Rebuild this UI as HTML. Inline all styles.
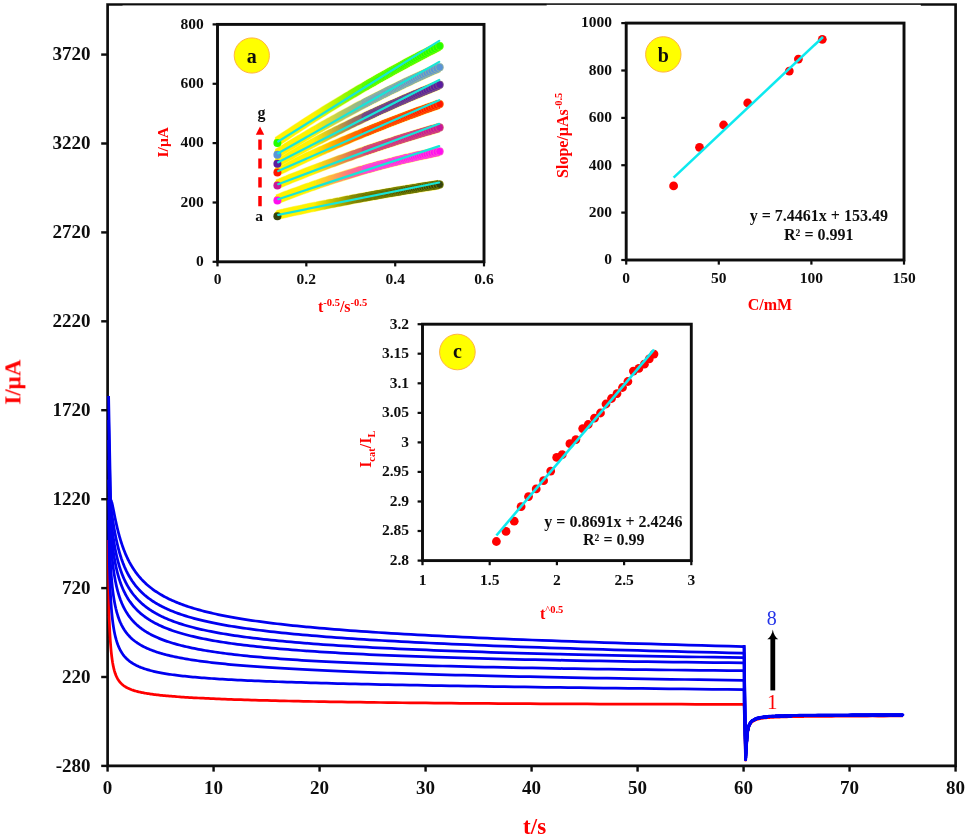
<!DOCTYPE html>
<html lang="en"><head><meta charset="utf-8"><title>Chronoamperograms</title>
<style>html,body{margin:0;padding:0;background:#fff}svg{display:block}text{font-family:"Liberation Serif", "DejaVu Serif", serif;font-weight:bold;fill:#111}</style></head><body>
<svg width="968" height="840" viewBox="0 0 968 840">
<defs><filter id="soft" x="0" y="0" width="968" height="840" filterUnits="userSpaceOnUse"><feGaussianBlur stdDeviation="0.38"/></filter></defs>
<rect width="968" height="840" fill="#fff"/>
<g filter="url(#soft)">
<g stroke="#0a0a0a" stroke-width="2.7" fill="none">
<path d="M107.6 4.5 H955.6 V765.9 H107.6 Z"/>
</g>
<rect x="122.5" y="5.55" width="424" height="3" fill="#fff"/>
<rect x="546.5" y="4.95" width="374.3" height="3" fill="#fff"/>
<rect x="546.5" y="3.0" width="374.3" height="2" fill="#fff" fill-opacity="0.1"/>
<g stroke="#0a0a0a" stroke-width="2.4">
<path d="M101.2 765.9 H107.6"/>
<path d="M101.2 677.0 H107.6"/>
<path d="M101.2 588.1 H107.6"/>
<path d="M101.2 499.2 H107.6"/>
<path d="M101.2 410.2 H107.6"/>
<path d="M101.2 321.3 H107.6"/>
<path d="M101.2 232.4 H107.6"/>
<path d="M101.2 143.5 H107.6"/>
<path d="M101.2 54.6 H107.6"/>
<path d="M107.6 765.9 V771.6"/>
<path d="M213.6 765.9 V771.6"/>
<path d="M319.6 765.9 V771.6"/>
<path d="M425.6 765.9 V771.6"/>
<path d="M531.6 765.9 V771.6"/>
<path d="M637.6 765.9 V771.6"/>
<path d="M743.6 765.9 V771.6"/>
<path d="M849.6 765.9 V771.6"/>
<path d="M955.6 765.9 V771.6"/>
</g>
<g font-size="19px" text-anchor="end">
<text x="90.6" y="771.5">-280</text>
<text x="90.6" y="682.6">220</text>
<text x="90.6" y="593.7">720</text>
<text x="90.6" y="504.8">1220</text>
<text x="90.6" y="415.9">1720</text>
<text x="90.6" y="326.9">2220</text>
<text x="90.6" y="238.0">2720</text>
<text x="90.6" y="149.1">3220</text>
<text x="90.6" y="60.2">3720</text>
</g>
<g font-size="19px" text-anchor="middle">
<text x="107.6" y="794.1">0</text>
<text x="213.6" y="794.1">10</text>
<text x="319.6" y="794.1">20</text>
<text x="425.6" y="794.1">30</text>
<text x="531.6" y="794.1">40</text>
<text x="637.6" y="794.1">50</text>
<text x="743.6" y="794.1">60</text>
<text x="849.6" y="794.1">70</text>
<text x="955.6" y="794.1">80</text>
</g>
<text x="534.6" y="834.2" font-size="23px" text-anchor="middle" style="fill:#ff0000">t/s</text>
<text transform="translate(20.4 382.2) rotate(-90)" font-size="23px" text-anchor="middle" style="fill:#ff0000">I/μA</text>
<g fill="none" stroke-width="2.75" stroke-linejoin="round" stroke-linecap="butt">
<path d="M108.4 540.0L109.00 614.32L109.04 615.16L109.07 616.03L109.11 616.93L109.15 617.85L109.19 618.80L109.23 619.77L109.27 620.75L109.32 621.75L109.36 622.77L109.41 623.80L109.46 624.84L109.50 625.89L109.55 626.95L109.60 628.02L109.66 629.09L109.71 630.16L109.76 631.24L109.82 632.32L109.88 633.39L109.94 634.47L110.00 635.54L110.06 636.61L110.12 637.68L110.19 638.74L110.25 639.80L110.32 640.84L110.39 641.89L110.47 642.92L110.54 643.94L110.62 644.96L110.70 645.96L110.78 646.96L110.86 647.94L110.94 648.91L111.03 649.87L111.12 650.82L111.21 651.76L111.30 652.69L111.40 653.60L111.50 654.50L111.60 655.38L111.70 656.26L111.81 657.12L111.92 657.96L112.03 658.80L112.14 659.62L112.26 660.42L112.38 661.22L112.51 662.00L112.63 662.76L112.77 663.51L112.90 664.25L113.04 664.98L113.18 665.69L113.32 666.39L113.47 667.08L113.62 667.76L113.78 668.42L113.94 669.07L114.10 669.70L114.27 670.33L114.45 670.94L114.62 671.54L114.80 672.13L114.99 672.71L115.18 673.27L115.38 673.83L115.58 674.37L115.79 674.90L116.00 675.42L116.22 675.93L116.44 676.44L116.67 676.93L116.91 677.41L117.15 677.88L117.40 678.34L117.65 678.79L117.91 679.23L118.18 679.66L118.45 680.09L118.73 680.50L119.02 680.91L119.32 681.31L119.62 681.70L119.93 682.08L120.25 682.46L120.58 682.82L120.92 683.18L121.26 683.53L121.62 683.88L121.98 684.22L122.35 684.55L122.74 684.87L123.13 685.19L123.53 685.50L123.94 685.80L124.37 686.10L124.80 686.40L125.25 686.68L125.71 686.96L126.18 687.24L126.66 687.51L127.15 687.78L127.66 688.04L128.18 688.29L128.71 688.54L129.26 688.79L129.82 689.03L130.40 689.27L130.99 689.50L131.59 689.73L132.22 689.95L132.86 690.17L133.51 690.39L134.18 690.60L134.87 690.81L135.58 691.01L136.30 691.22L137.05 691.41L137.81 691.61L138.59 691.80L139.40 691.99L140.22 692.18L141.07 692.36L141.94 692.54L142.83 692.72L143.74 692.89L144.68 693.07L145.64 693.24L146.62 693.40L147.64 693.57L148.67 693.73L149.74 693.89L150.83 694.05L151.95 694.21L153.10 694.36L154.28 694.52L155.49 694.67L156.74 694.82L158.01 694.97L159.32 695.11L160.66 695.26L162.03 695.40L163.44 695.54L164.89 695.68L166.38 695.82L167.90 695.96L169.47 696.09L171.07 696.23L172.71 696.36L174.40 696.49L176.14 696.62L177.91 696.75L179.74 696.88L181.61 697.01L183.52 697.14L185.49 697.27L187.51 697.39L189.58 697.52L191.71 697.64L193.89 697.76L196.13 697.88L198.42 698.00L200.78 698.12L203.20 698.24L205.67 698.36L208.22 698.48L210.83 698.60L213.50 698.71L216.25 698.83L219.06 698.95L221.95 699.06L224.92 699.17L227.96 699.29L231.08 699.40L234.28 699.51L237.57 699.62L240.94 699.73L244.40 699.84L247.94 699.95L251.58 700.06L255.32 700.17L259.15 700.27L263.07 700.38L267.11 700.49L271.24 700.59L275.48 700.69L279.84 700.80L284.30 700.90L288.88 701.00L293.59 701.10L298.41 701.20L303.35 701.30L308.43 701.40L313.64 701.50L318.98 701.59L324.46 701.69L330.08 701.78L335.85 701.88L341.77 701.97L347.84 702.06L354.07 702.15L360.46 702.24L367.02 702.33L373.74 702.41L380.64 702.50L387.72 702.58L394.99 702.66L402.44 702.75L410.08 702.83L417.93 702.90L425.97 702.98L434.23 703.06L442.70 703.13L451.38 703.20L460.30 703.27L469.44 703.34L478.83 703.41L488.45 703.48L498.33 703.54L508.46 703.60L518.85 703.66L529.51 703.72L540.45 703.78L551.68 703.83L563.19 703.88L575.00 703.93L587.12 703.98L599.55 704.02L612.31 704.07L625.40 704.11L638.82 704.14L652.60 704.18L666.73 704.21L681.22 704.24L696.10 704.27L711.36 704.29L727.01 704.31L743.07 704.33L744.1 704.3 L744.3 707.3 L745.6 759.3L745.6 760.2L745.6 759.2L745.7 758.2L745.7 757.1L745.8 756.1L745.8 755.1L745.9 754.1L745.9 753.0L746.0 752.0L746.1 751.0L746.1 749.9L746.2 748.9L746.3 747.8L746.3 746.8L746.4 745.7L746.5 744.6L746.6 743.5L746.7 742.3L746.8 741.1L746.8 739.9L746.9 738.7L747.0 737.5L747.2 736.3L747.3 735.2L747.4 734.1L747.5 733.1L747.6 732.2L747.8 731.3L747.9 730.5L748.0 729.9L748.2 729.2L748.3 728.6L748.5 728.1L748.7 727.5L748.8 727.0L749.0 726.5L749.2 726.1L749.4 725.6L749.6 725.2L749.9 724.7L750.1 724.3L750.3 723.9L750.6 723.5L750.8 723.2L751.1 722.9L751.4 722.6L751.7 722.3L752.0 722.0L752.3 721.8L752.6 721.5L753.0 721.3L753.4 721.1L753.7 720.8L754.1 720.6L754.6 720.4L755.0 720.2L755.4 720.0L755.9 719.8L756.4 719.6L756.9 719.4L757.4 719.2L758.0 719.1L758.6 718.9L759.2 718.8L759.8 718.7L760.5 718.6L761.2 718.5L761.9 718.4L762.7 718.2L763.4 718.1L764.3 718.0L765.1 717.9L766.0 717.8L766.9 717.7L767.9 717.6L768.9 717.5L770.0 717.5L771.1 717.4L772.2 717.3L773.4 717.3L774.7 717.2L776.0 717.1L777.4 717.1L778.8 717.0L780.3 717.0L781.8 716.9L783.4 716.9L785.1 716.8L786.9 716.8L788.7 716.7L790.7 716.7L792.7 716.6L794.7 716.6L796.9 716.6L799.2 716.5L801.6 716.5L804.0 716.5L806.6 716.4L809.3 716.4L812.1 716.4L815.1 716.4L818.1 716.3L821.3 716.3L824.7 716.3L828.2 716.3L831.8 716.3L835.6 716.2L839.5 716.2L843.7 716.2L848.0 716.2L852.5 716.1L857.2 716.1L862.0 716.1L867.2 716.1L872.5 716.0L878.0 716.0L883.8 716.0L889.9 715.9L896.2 715.9L902.8 715.9" stroke="#ff0000"/>
<path d="M108.6 520.0L109.30 561.02L109.34 562.76L109.39 564.48L109.43 566.18L109.48 567.87L109.52 569.53L109.57 571.18L109.62 572.81L109.67 574.42L109.72 576.02L109.78 577.59L109.83 579.15L109.89 580.69L109.95 582.21L110.01 583.72L110.07 585.21L110.13 586.68L110.19 588.13L110.26 589.56L110.32 590.98L110.39 592.38L110.46 593.77L110.53 595.13L110.61 596.48L110.68 597.81L110.76 599.13L110.84 600.43L110.92 601.71L111.00 602.97L111.09 604.22L111.18 605.46L111.27 606.67L111.36 607.87L111.45 609.06L111.55 610.23L111.65 611.38L111.75 612.52L111.85 613.64L111.96 614.75L112.07 615.84L112.18 616.92L112.30 617.98L112.41 619.03L112.54 620.07L112.66 621.09L112.79 622.09L112.92 623.08L113.05 624.06L113.19 625.02L113.33 625.97L113.47 626.91L113.62 627.83L113.77 628.74L113.92 629.64L114.08 630.53L114.24 631.40L114.41 632.26L114.58 633.10L114.76 633.94L114.94 634.76L115.12 635.57L115.31 636.37L115.50 637.16L115.70 637.94L115.91 638.70L116.11 639.45L116.33 640.20L116.55 640.93L116.77 641.65L117.00 642.36L117.24 643.06L117.48 643.75L117.73 644.43L117.98 645.10L118.24 645.75L118.51 646.40L118.78 647.04L119.06 647.67L119.35 648.29L119.65 648.91L119.95 649.51L120.26 650.10L120.58 650.68L120.90 651.26L121.23 651.83L121.58 652.39L121.93 652.94L122.29 653.48L122.66 654.01L123.03 654.54L123.42 655.05L123.82 655.56L124.22 656.07L124.64 656.56L125.07 657.05L125.51 657.53L125.96 658.00L126.42 658.47L126.89 658.93L127.37 659.38L127.87 659.82L128.38 660.26L128.90 660.69L129.44 661.12L129.98 661.53L130.55 661.95L131.12 662.35L131.71 662.75L132.32 663.15L132.94 663.53L133.57 663.92L134.22 664.29L134.89 664.66L135.58 665.03L136.28 665.39L137.00 665.74L137.74 666.09L138.49 666.44L139.27 666.78L140.06 667.11L140.88 667.44L141.71 667.76L142.57 668.08L143.45 668.40L144.35 668.71L145.27 669.01L146.21 669.31L147.18 669.61L148.18 669.90L149.19 670.19L150.24 670.47L151.31 670.75L152.40 671.03L153.53 671.30L154.68 671.57L155.86 671.84L157.07 672.10L158.32 672.35L159.59 672.61L160.89 672.86L162.23 673.10L163.60 673.35L165.01 673.58L166.45 673.82L167.92 674.05L169.44 674.28L170.99 674.51L172.58 674.74L174.21 674.96L175.88 675.18L177.60 675.39L179.35 675.60L181.15 675.81L183.00 676.02L184.89 676.23L186.83 676.43L188.82 676.63L190.86 676.82L192.95 677.02L195.09 677.21L197.29 677.40L199.54 677.59L201.84 677.78L204.21 677.96L206.63 678.14L209.12 678.32L211.67 678.50L214.28 678.68L216.95 678.85L219.70 679.03L222.51 679.20L225.40 679.37L228.35 679.54L231.38 679.70L234.49 679.87L237.67 680.03L240.94 680.19L244.28 680.35L247.71 680.51L251.23 680.67L254.83 680.83L258.53 680.98L262.32 681.14L266.20 681.29L270.18 681.45L274.26 681.60L278.44 681.75L282.73 681.90L287.12 682.05L291.63 682.20L296.25 682.35L300.98 682.49L305.83 682.64L310.81 682.79L315.91 682.93L321.14 683.08L326.49 683.22L331.99 683.36L337.62 683.51L343.39 683.65L349.31 683.80L355.37 683.94L361.59 684.08L367.97 684.22L374.50 684.37L381.20 684.51L388.06 684.65L395.10 684.79L402.32 684.94L409.71 685.08L417.29 685.22L425.07 685.37L433.03 685.51L441.20 685.65L449.57 685.80L458.15 685.94L466.95 686.09L475.97 686.23L485.21 686.38L494.69 686.52L504.40 686.67L514.36 686.82L524.57 686.96L535.03 687.11L545.76 687.26L556.75 687.41L568.03 687.56L579.58 687.71L591.43 687.86L603.57 688.02L616.01 688.17L628.77 688.32L641.85 688.48L655.26 688.64L669.00 688.79L683.09 688.95L697.53 689.11L712.34 689.27L727.51 689.43L743.07 689.59L744.1 689.6 L744.3 692.6 L745.6 759.3L745.6 759.3L745.6 758.3L745.7 757.3L745.7 756.2L745.8 755.2L745.8 754.2L745.9 753.2L745.9 752.1L746.0 751.1L746.1 750.1L746.1 749.0L746.2 748.0L746.3 746.9L746.3 745.9L746.4 744.8L746.5 743.7L746.6 742.6L746.7 741.4L746.8 740.2L746.8 739.0L746.9 737.8L747.0 736.6L747.2 735.4L747.3 734.3L747.4 733.2L747.5 732.2L747.6 731.3L747.8 730.4L747.9 729.6L748.0 729.0L748.2 728.3L748.3 727.7L748.5 727.2L748.7 726.6L748.8 726.1L749.0 725.6L749.2 725.2L749.4 724.7L749.6 724.3L749.9 723.8L750.1 723.4L750.3 723.0L750.6 722.6L750.8 722.3L751.1 722.0L751.4 721.7L751.7 721.4L752.0 721.1L752.3 720.9L752.6 720.6L753.0 720.4L753.4 720.2L753.7 719.9L754.1 719.7L754.6 719.5L755.0 719.3L755.4 719.1L755.9 718.9L756.4 718.7L756.9 718.5L757.4 718.3L758.0 718.2L758.6 718.0L759.2 717.9L759.8 717.8L760.5 717.7L761.2 717.6L761.9 717.5L762.7 717.3L763.4 717.2L764.3 717.1L765.1 717.0L766.0 716.9L766.9 716.8L767.9 716.7L768.9 716.6L770.0 716.6L771.1 716.5L772.2 716.4L773.4 716.4L774.7 716.3L776.0 716.2L777.4 716.2L778.8 716.1L780.3 716.1L781.8 716.0L783.4 716.0L785.1 715.9L786.9 715.9L788.7 715.8L790.7 715.8L792.7 715.7L794.7 715.7L796.9 715.7L799.2 715.6L801.6 715.6L804.0 715.6L806.6 715.5L809.3 715.5L812.1 715.5L815.1 715.5L818.1 715.4L821.3 715.4L824.7 715.4L828.2 715.4L831.8 715.4L835.6 715.3L839.5 715.3L843.7 715.3L848.0 715.3L852.5 715.2L857.2 715.2L862.0 715.2L867.2 715.2L872.5 715.1L878.0 715.1L883.8 715.1L889.9 715.0L896.2 715.0L902.8 715.0" stroke="#0000f0"/>
<path d="M108.6 500.0L109.60 542.85L109.65 544.25L109.70 545.64L109.75 547.02L109.80 548.39L109.86 549.75L109.91 551.11L109.97 552.45L110.03 553.78L110.08 555.11L110.15 556.42L110.21 557.72L110.27 559.02L110.34 560.30L110.40 561.58L110.47 562.84L110.54 564.09L110.61 565.34L110.69 566.57L110.76 567.80L110.84 569.01L110.92 570.21L111.00 571.41L111.08 572.59L111.17 573.76L111.25 574.93L111.34 576.08L111.43 577.23L111.53 578.36L111.62 579.48L111.72 580.60L111.82 581.70L111.93 582.80L112.03 583.88L112.14 584.96L112.25 586.02L112.36 587.08L112.48 588.12L112.60 589.16L112.72 590.18L112.85 591.20L112.97 592.21L113.10 593.20L113.24 594.19L113.38 595.17L113.52 596.14L113.66 597.10L113.81 598.05L113.96 598.99L114.12 599.92L114.28 600.85L114.44 601.76L114.61 602.67L114.78 603.56L114.95 604.45L115.13 605.33L115.31 606.20L115.50 607.06L115.70 607.91L115.89 608.76L116.10 609.59L116.30 610.42L116.51 611.24L116.73 612.05L116.95 612.85L117.18 613.65L117.42 614.43L117.66 615.21L117.90 615.98L118.15 616.74L118.41 617.50L118.67 618.24L118.94 618.98L119.22 619.71L119.50 620.44L119.80 621.15L120.09 621.86L120.40 622.56L120.71 623.26L121.03 623.94L121.36 624.62L121.69 625.29L122.04 625.96L122.39 626.62L122.75 627.27L123.12 627.91L123.50 628.55L123.89 629.18L124.28 629.81L124.69 630.43L125.11 631.04L125.53 631.64L125.97 632.24L126.42 632.83L126.88 633.42L127.35 634.00L127.83 634.57L128.33 635.14L128.83 635.70L129.35 636.26L129.88 636.81L130.42 637.35L130.98 637.89L131.55 638.42L132.14 638.95L132.73 639.47L133.35 639.99L133.98 640.50L134.62 641.01L135.28 641.51L135.95 642.00L136.65 642.49L137.35 642.98L138.08 643.46L138.82 643.93L139.59 644.40L140.37 644.87L141.17 645.33L141.98 645.78L142.82 646.23L143.68 646.68L144.56 647.12L145.46 647.56L146.39 647.99L147.33 648.42L148.30 648.84L149.30 649.26L150.31 649.68L151.36 650.09L152.42 650.50L153.52 650.90L154.64 651.30L155.79 651.69L156.96 652.09L158.17 652.47L159.40 652.86L160.66 653.24L161.96 653.61L163.28 653.99L164.64 654.35L166.04 654.72L167.46 655.08L168.92 655.44L170.42 655.79L171.95 656.15L173.52 656.49L175.13 656.84L176.78 657.18L178.46 657.52L180.19 657.86L181.96 658.19L183.78 658.52L185.64 658.84L187.54 659.17L189.49 659.49L191.49 659.81L193.54 660.12L195.63 660.43L197.78 660.74L199.98 661.05L202.24 661.36L204.54 661.66L206.91 661.96L209.33 662.25L211.81 662.55L214.36 662.84L216.96 663.13L219.63 663.42L222.36 663.70L225.16 663.99L228.03 664.27L230.97 664.55L233.98 664.82L237.06 665.10L240.22 665.37L243.46 665.64L246.77 665.91L250.17 666.17L253.65 666.44L257.21 666.70L260.86 666.96L264.60 667.22L268.43 667.48L272.35 667.73L276.37 667.99L280.49 668.24L284.71 668.49L289.03 668.74L293.46 668.99L297.99 669.23L302.64 669.48L307.40 669.72L312.27 669.96L317.27 670.21L322.38 670.44L327.62 670.68L332.99 670.92L338.49 671.16L344.12 671.39L349.89 671.62L355.80 671.86L361.86 672.09L368.06 672.32L374.42 672.55L380.93 672.77L387.60 673.00L394.43 673.23L401.43 673.45L408.60 673.68L415.94 673.90L423.46 674.12L431.17 674.34L439.06 674.57L447.15 674.79L455.43 675.01L463.92 675.22L472.61 675.44L481.52 675.66L490.64 675.88L499.99 676.09L509.56 676.31L519.37 676.53L529.42 676.74L539.71 676.96L550.25 677.17L561.05 677.38L572.11 677.60L583.45 677.81L595.06 678.02L606.95 678.23L619.13 678.45L631.62 678.66L644.40 678.87L657.50 679.08L670.91 679.29L684.66 679.50L698.74 679.71L713.16 679.92L727.93 680.13L743.07 680.34L744.1 680.3 L744.3 683.3 L745.6 759.3L745.6 759.3L745.6 758.3L745.7 757.3L745.7 756.2L745.8 755.2L745.8 754.2L745.9 753.2L745.9 752.1L746.0 751.1L746.1 750.1L746.1 749.0L746.2 748.0L746.3 746.9L746.3 745.9L746.4 744.8L746.5 743.7L746.6 742.6L746.7 741.4L746.8 740.2L746.8 739.0L746.9 737.8L747.0 736.6L747.2 735.4L747.3 734.3L747.4 733.2L747.5 732.2L747.6 731.3L747.8 730.4L747.9 729.6L748.0 729.0L748.2 728.3L748.3 727.7L748.5 727.2L748.7 726.6L748.8 726.1L749.0 725.6L749.2 725.2L749.4 724.7L749.6 724.3L749.9 723.8L750.1 723.4L750.3 723.0L750.6 722.6L750.8 722.3L751.1 722.0L751.4 721.7L751.7 721.4L752.0 721.1L752.3 720.9L752.6 720.6L753.0 720.4L753.4 720.2L753.7 719.9L754.1 719.7L754.6 719.5L755.0 719.3L755.4 719.1L755.9 718.9L756.4 718.7L756.9 718.5L757.4 718.3L758.0 718.2L758.6 718.0L759.2 717.9L759.8 717.8L760.5 717.7L761.2 717.6L761.9 717.5L762.7 717.3L763.4 717.2L764.3 717.1L765.1 717.0L766.0 716.9L766.9 716.8L767.9 716.7L768.9 716.6L770.0 716.6L771.1 716.5L772.2 716.4L773.4 716.4L774.7 716.3L776.0 716.2L777.4 716.2L778.8 716.1L780.3 716.1L781.8 716.0L783.4 716.0L785.1 715.9L786.9 715.9L788.7 715.8L790.7 715.8L792.7 715.7L794.7 715.7L796.9 715.7L799.2 715.6L801.6 715.6L804.0 715.6L806.6 715.5L809.3 715.5L812.1 715.5L815.1 715.5L818.1 715.4L821.3 715.4L824.7 715.4L828.2 715.4L831.8 715.4L835.6 715.3L839.5 715.3L843.7 715.3L848.0 715.3L852.5 715.2L857.2 715.2L862.0 715.2L867.2 715.2L872.5 715.1L878.0 715.1L883.8 715.1L889.9 715.0L896.2 715.0L902.8 715.0" stroke="#0000f0"/>
<path d="M108.6 480.0L109.80 521.45L109.85 522.72L109.91 523.99L109.96 525.25L110.02 526.51L110.08 527.75L110.14 529.00L110.20 530.24L110.26 531.47L110.32 532.70L110.39 533.92L110.46 535.13L110.52 536.34L110.59 537.55L110.67 538.74L110.74 539.94L110.81 541.12L110.89 542.30L110.97 543.48L111.05 544.64L111.13 545.81L111.22 546.96L111.31 548.11L111.40 549.26L111.49 550.40L111.58 551.53L111.67 552.65L111.77 553.77L111.87 554.89L111.98 555.99L112.08 557.09L112.19 558.19L112.30 559.28L112.41 560.36L112.53 561.44L112.64 562.51L112.76 563.57L112.89 564.63L113.02 565.68L113.15 566.73L113.28 567.77L113.41 568.80L113.55 569.83L113.70 570.85L113.84 571.86L113.99 572.87L114.15 573.87L114.30 574.86L114.46 575.85L114.63 576.84L114.80 577.81L114.97 578.78L115.15 579.75L115.33 580.71L115.51 581.66L115.70 582.60L115.90 583.54L116.10 584.47L116.30 585.40L116.51 586.32L116.72 587.24L116.94 588.14L117.17 589.05L117.40 589.94L117.63 590.83L117.87 591.71L118.12 592.59L118.37 593.46L118.63 594.33L118.89 595.19L119.16 596.04L119.44 596.89L119.73 597.73L120.02 598.56L120.31 599.39L120.62 600.21L120.93 601.03L121.25 601.84L121.58 602.65L121.91 603.44L122.26 604.24L122.61 605.03L122.97 605.81L123.34 606.58L123.72 607.35L124.10 608.11L124.50 608.87L124.90 609.62L125.32 610.37L125.74 611.11L126.18 611.85L126.63 612.58L127.08 613.30L127.55 614.02L128.03 614.73L128.52 615.44L129.02 616.14L129.53 616.83L130.06 617.52L130.60 618.21L131.15 618.88L131.72 619.56L132.29 620.23L132.89 620.89L133.49 621.54L134.11 622.20L134.75 622.84L135.40 623.48L136.07 624.12L136.75 624.75L137.45 625.37L138.17 625.99L138.90 626.61L139.65 627.22L140.42 627.82L141.21 628.42L142.01 629.02L142.84 629.60L143.68 630.19L144.55 630.77L145.44 631.34L146.34 631.91L147.27 632.47L148.23 633.03L149.20 633.59L150.20 634.14L151.22 634.68L152.27 635.22L153.34 635.75L154.43 636.28L155.56 636.81L156.71 637.33L157.89 637.85L159.09 638.36L160.33 638.86L161.59 639.36L162.89 639.86L164.22 640.35L165.57 640.84L166.96 641.33L168.39 641.80L169.85 642.28L171.34 642.75L172.87 643.21L174.43 643.68L176.04 644.13L177.68 644.58L179.36 645.03L181.08 645.48L182.85 645.92L184.65 646.35L186.50 646.78L188.39 647.21L190.33 647.63L192.32 648.05L194.35 648.47L196.43 648.88L198.56 649.28L200.74 649.68L202.98 650.08L205.26 650.48L207.61 650.87L210.01 651.25L212.46 651.64L214.98 652.01L217.55 652.39L220.19 652.76L222.89 653.13L225.66 653.49L228.49 653.85L231.39 654.20L234.36 654.56L237.40 654.90L240.52 655.25L243.71 655.59L246.97 655.93L250.31 656.26L253.74 656.59L257.24 656.92L260.83 657.24L264.51 657.56L268.27 657.87L272.13 658.18L276.08 658.49L280.12 658.80L284.26 659.10L288.49 659.40L292.83 659.69L297.28 659.98L301.83 660.27L306.49 660.56L311.26 660.84L316.14 661.11L321.15 661.39L326.27 661.66L331.52 661.93L336.89 662.19L342.39 662.45L348.02 662.71L353.79 662.97L359.69 663.22L365.74 663.47L371.93 663.71L378.28 663.96L384.77 664.20L391.42 664.43L398.23 664.67L405.20 664.90L412.34 665.12L419.65 665.35L427.14 665.57L434.80 665.79L442.65 666.00L450.69 666.21L458.92 666.42L467.35 666.63L475.98 666.83L484.82 667.03L493.86 667.23L503.13 667.42L512.62 667.61L522.34 667.80L532.29 667.99L542.47 668.17L552.91 668.35L563.59 668.53L574.53 668.70L585.73 668.87L597.20 669.04L608.95 669.21L620.97 669.37L633.29 669.53L645.90 669.69L658.81 669.84L672.04 670.00L685.58 670.15L699.44 670.29L713.64 670.44L728.18 670.58L743.07 670.72L744.1 670.7 L744.3 673.7 L745.6 759.3L745.6 759.3L745.6 758.3L745.7 757.3L745.7 756.2L745.8 755.2L745.8 754.2L745.9 753.2L745.9 752.1L746.0 751.1L746.1 750.1L746.1 749.0L746.2 748.0L746.3 746.9L746.3 745.9L746.4 744.8L746.5 743.7L746.6 742.6L746.7 741.4L746.8 740.2L746.8 739.0L746.9 737.8L747.0 736.6L747.2 735.4L747.3 734.3L747.4 733.2L747.5 732.2L747.6 731.3L747.8 730.4L747.9 729.6L748.0 729.0L748.2 728.3L748.3 727.7L748.5 727.2L748.7 726.6L748.8 726.1L749.0 725.6L749.2 725.2L749.4 724.7L749.6 724.3L749.9 723.8L750.1 723.4L750.3 723.0L750.6 722.6L750.8 722.3L751.1 722.0L751.4 721.7L751.7 721.4L752.0 721.1L752.3 720.9L752.6 720.6L753.0 720.4L753.4 720.2L753.7 719.9L754.1 719.7L754.6 719.5L755.0 719.3L755.4 719.1L755.9 718.9L756.4 718.7L756.9 718.5L757.4 718.3L758.0 718.2L758.6 718.0L759.2 717.9L759.8 717.8L760.5 717.7L761.2 717.6L761.9 717.5L762.7 717.3L763.4 717.2L764.3 717.1L765.1 717.0L766.0 716.9L766.9 716.8L767.9 716.7L768.9 716.6L770.0 716.6L771.1 716.5L772.2 716.4L773.4 716.4L774.7 716.3L776.0 716.2L777.4 716.2L778.8 716.1L780.3 716.1L781.8 716.0L783.4 716.0L785.1 715.9L786.9 715.9L788.7 715.8L790.7 715.8L792.7 715.7L794.7 715.7L796.9 715.7L799.2 715.6L801.6 715.6L804.0 715.6L806.6 715.5L809.3 715.5L812.1 715.5L815.1 715.5L818.1 715.4L821.3 715.4L824.7 715.4L828.2 715.4L831.8 715.4L835.6 715.3L839.5 715.3L843.7 715.3L848.0 715.3L852.5 715.2L857.2 715.2L862.0 715.2L867.2 715.2L872.5 715.1L878.0 715.1L883.8 715.1L889.9 715.0L896.2 715.0L902.8 715.0" stroke="#0000f0"/>
<path d="M108.6 460.0L110.00 514.91L110.06 515.87L110.11 516.84L110.17 517.80L110.23 518.77L110.30 519.73L110.36 520.71L110.43 521.68L110.49 522.65L110.56 523.62L110.63 524.60L110.70 525.58L110.78 526.55L110.85 527.53L110.93 528.51L111.01 529.49L111.09 530.47L111.17 531.45L111.25 532.43L111.34 533.41L111.43 534.40L111.52 535.38L111.61 536.36L111.71 537.34L111.80 538.31L111.90 539.29L112.00 540.27L112.11 541.25L112.21 542.22L112.32 543.20L112.43 544.17L112.55 545.14L112.67 546.11L112.79 547.08L112.91 548.05L113.03 549.02L113.16 549.98L113.29 550.94L113.43 551.90L113.56 552.86L113.71 553.82L113.85 554.77L114.00 555.72L114.15 556.67L114.30 557.62L114.46 558.56L114.62 559.50L114.79 560.44L114.96 561.38L115.13 562.31L115.31 563.24L115.49 564.17L115.68 565.09L115.87 566.01L116.07 566.93L116.27 567.85L116.47 568.76L116.68 569.66L116.89 570.57L117.11 571.47L117.34 572.37L117.57 573.26L117.80 574.15L118.04 575.03L118.29 575.92L118.54 576.80L118.80 577.67L119.07 578.54L119.34 579.41L119.61 580.27L119.90 581.13L120.19 581.98L120.49 582.83L120.79 583.68L121.10 584.52L121.42 585.36L121.75 586.19L122.08 587.02L122.42 587.85L122.77 588.67L123.13 589.48L123.50 590.30L123.87 591.10L124.26 591.91L124.65 592.70L125.05 593.50L125.47 594.29L125.89 595.07L126.32 595.85L126.76 596.63L127.22 597.40L127.68 598.17L128.15 598.93L128.64 599.68L129.13 600.44L129.64 601.18L130.16 601.93L130.70 602.67L131.24 603.40L131.80 604.13L132.37 604.85L132.96 605.57L133.56 606.29L134.17 607.00L134.80 607.70L135.44 608.40L136.10 609.10L136.77 609.79L137.46 610.47L138.16 611.15L138.89 611.83L139.62 612.50L140.38 613.17L141.16 613.83L141.95 614.49L142.76 615.14L143.59 615.79L144.44 616.43L145.31 617.07L146.20 617.70L147.11 618.33L148.04 618.95L149.00 619.57L149.98 620.19L150.98 620.80L152.00 621.40L153.05 622.00L154.12 622.60L155.22 623.19L156.35 623.77L157.50 624.35L158.68 624.93L159.88 625.50L161.12 626.07L162.38 626.63L163.68 627.19L165.00 627.74L166.36 628.29L167.74 628.83L169.17 629.37L170.62 629.91L172.11 630.44L173.63 630.96L175.19 631.49L176.79 632.00L178.42 632.51L180.09 633.02L181.81 633.52L183.56 634.02L185.35 634.52L187.19 635.01L189.07 635.49L190.99 635.97L192.96 636.45L194.98 636.92L197.04 637.39L199.15 637.85L201.32 638.31L203.53 638.77L205.79 639.22L208.11 639.67L210.49 640.11L212.92 640.55L215.40 640.98L217.95 641.41L220.56 641.83L223.22 642.26L225.96 642.67L228.75 643.08L231.61 643.49L234.54 643.90L237.54 644.30L240.61 644.70L243.75 645.09L246.96 645.48L250.26 645.86L253.62 646.24L257.07 646.62L260.60 646.99L264.22 647.36L267.92 647.72L271.70 648.09L275.58 648.44L279.55 648.80L283.61 649.14L287.76 649.49L292.02 649.83L296.37 650.17L300.83 650.50L305.40 650.83L310.07 651.16L314.85 651.48L319.74 651.80L324.75 652.12L329.88 652.43L335.13 652.74L340.50 653.04L346.01 653.34L351.64 653.64L357.40 653.93L363.30 654.22L369.34 654.51L375.52 654.79L381.85 655.07L388.32 655.35L394.95 655.62L401.74 655.89L408.69 656.16L415.80 656.42L423.08 656.68L430.53 656.93L438.15 657.19L445.96 657.43L453.95 657.68L462.13 657.92L470.50 658.16L479.08 658.39L487.85 658.63L496.83 658.85L506.02 659.08L515.43 659.30L525.06 659.52L534.92 659.73L545.01 659.95L555.35 660.16L565.92 660.36L576.74 660.56L587.82 660.76L599.17 660.96L610.78 661.15L622.66 661.34L634.82 661.53L647.27 661.71L660.02 661.89L673.07 662.07L686.42 662.24L700.09 662.41L714.08 662.58L728.41 662.74L743.07 662.90L744.1 662.9 L744.3 665.9 L745.6 759.3L745.6 759.3L745.6 758.3L745.7 757.3L745.7 756.2L745.8 755.2L745.8 754.2L745.9 753.2L745.9 752.1L746.0 751.1L746.1 750.1L746.1 749.0L746.2 748.0L746.3 746.9L746.3 745.9L746.4 744.8L746.5 743.7L746.6 742.6L746.7 741.4L746.8 740.2L746.8 739.0L746.9 737.8L747.0 736.6L747.2 735.4L747.3 734.3L747.4 733.2L747.5 732.2L747.6 731.3L747.8 730.4L747.9 729.6L748.0 729.0L748.2 728.3L748.3 727.7L748.5 727.2L748.7 726.6L748.8 726.1L749.0 725.6L749.2 725.2L749.4 724.7L749.6 724.3L749.9 723.8L750.1 723.4L750.3 723.0L750.6 722.6L750.8 722.3L751.1 722.0L751.4 721.7L751.7 721.4L752.0 721.1L752.3 720.9L752.6 720.6L753.0 720.4L753.4 720.2L753.7 719.9L754.1 719.7L754.6 719.5L755.0 719.3L755.4 719.1L755.9 718.9L756.4 718.7L756.9 718.5L757.4 718.3L758.0 718.2L758.6 718.0L759.2 717.9L759.8 717.8L760.5 717.7L761.2 717.6L761.9 717.5L762.7 717.3L763.4 717.2L764.3 717.1L765.1 717.0L766.0 716.9L766.9 716.8L767.9 716.7L768.9 716.6L770.0 716.6L771.1 716.5L772.2 716.4L773.4 716.4L774.7 716.3L776.0 716.2L777.4 716.2L778.8 716.1L780.3 716.1L781.8 716.0L783.4 716.0L785.1 715.9L786.9 715.9L788.7 715.8L790.7 715.8L792.7 715.7L794.7 715.7L796.9 715.7L799.2 715.6L801.6 715.6L804.0 715.6L806.6 715.5L809.3 715.5L812.1 715.5L815.1 715.5L818.1 715.4L821.3 715.4L824.7 715.4L828.2 715.4L831.8 715.4L835.6 715.3L839.5 715.3L843.7 715.3L848.0 715.3L852.5 715.2L857.2 715.2L862.0 715.2L867.2 715.2L872.5 715.1L878.0 715.1L883.8 715.1L889.9 715.0L896.2 715.0L902.8 715.0" stroke="#0000f0"/>
<path d="M108.6 440.0L110.20 510.10L110.26 510.76L110.32 511.44L110.39 512.13L110.45 512.83L110.52 513.54L110.58 514.27L110.65 515.00L110.73 515.74L110.80 516.49L110.87 517.25L110.95 518.02L111.03 518.80L111.11 519.58L111.19 520.38L111.27 521.18L111.36 521.99L111.44 522.80L111.53 523.62L111.63 524.45L111.72 525.29L111.82 526.13L111.91 526.98L112.01 527.83L112.12 528.69L112.22 529.55L112.33 530.42L112.44 531.29L112.55 532.17L112.67 533.05L112.78 533.93L112.91 534.82L113.03 535.71L113.16 536.60L113.28 537.50L113.42 538.40L113.55 539.30L113.69 540.20L113.83 541.11L113.98 542.02L114.13 542.93L114.28 543.84L114.43 544.75L114.59 545.66L114.76 546.57L114.92 547.49L115.09 548.40L115.27 549.32L115.45 550.23L115.63 551.15L115.81 552.06L116.01 552.97L116.20 553.89L116.40 554.80L116.61 555.71L116.82 556.62L117.03 557.53L117.25 558.44L117.47 559.35L117.70 560.25L117.94 561.16L118.18 562.06L118.43 562.96L118.68 563.86L118.94 564.75L119.20 565.64L119.47 566.53L119.75 567.42L120.03 568.31L120.32 569.19L120.61 570.07L120.92 570.95L121.23 571.82L121.54 572.69L121.87 573.56L122.20 574.42L122.54 575.28L122.89 576.14L123.24 576.99L123.61 577.84L123.98 578.69L124.36 579.53L124.75 580.37L125.15 581.20L125.56 582.03L125.98 582.86L126.41 583.68L126.84 584.50L127.29 585.31L127.75 586.12L128.22 586.93L128.70 587.73L129.19 588.52L129.69 589.32L130.21 590.10L130.73 590.89L131.27 591.66L131.82 592.44L132.39 593.21L132.96 593.97L133.55 594.73L134.16 595.49L134.78 596.24L135.41 596.98L136.05 597.72L136.72 598.46L137.39 599.19L138.09 599.92L138.80 600.64L139.52 601.35L140.27 602.07L141.03 602.77L141.81 603.47L142.60 604.17L143.42 604.86L144.25 605.55L145.10 606.23L145.98 606.91L146.87 607.58L147.78 608.25L148.72 608.91L149.67 609.57L150.65 610.22L151.66 610.87L152.68 611.51L153.73 612.15L154.80 612.78L155.90 613.41L157.03 614.03L158.18 614.65L159.35 615.26L160.56 615.87L161.79 616.48L163.05 617.07L164.34 617.67L165.66 618.26L167.02 618.84L168.40 619.42L169.81 619.99L171.26 620.56L172.74 621.13L174.26 621.69L175.81 622.24L177.40 622.79L179.02 623.34L180.69 623.88L182.39 624.42L184.13 624.95L185.91 625.48L187.73 626.00L189.60 626.52L191.50 627.03L193.46 627.54L195.46 628.05L197.50 628.55L199.59 629.04L201.73 629.54L203.93 630.02L206.17 630.51L208.46 630.98L210.81 631.46L213.21 631.93L215.67 632.39L218.18 632.86L220.76 633.31L223.39 633.77L226.09 634.21L228.84 634.66L231.67 635.10L234.55 635.54L237.51 635.97L240.53 636.40L243.63 636.82L246.79 637.24L250.03 637.66L253.35 638.07L256.74 638.48L260.21 638.89L263.76 639.29L267.40 639.68L271.12 640.08L274.92 640.47L278.82 640.85L282.80 641.24L286.88 641.61L291.05 641.99L295.32 642.36L299.69 642.73L304.16 643.09L308.74 643.46L313.42 643.81L318.21 644.17L323.11 644.52L328.12 644.86L333.26 645.21L338.51 645.55L343.88 645.89L349.38 646.22L355.01 646.55L360.77 646.88L366.66 647.20L372.69 647.52L378.86 647.84L385.17 648.16L391.63 648.47L398.24 648.78L405.01 649.08L411.93 649.39L419.01 649.69L426.26 649.98L433.68 650.28L441.27 650.57L449.03 650.86L456.98 651.14L465.11 651.43L473.43 651.71L481.95 651.98L490.66 652.26L499.58 652.53L508.70 652.80L518.03 653.07L527.59 653.33L537.36 653.59L547.37 653.85L557.60 654.11L568.07 654.36L578.79 654.61L589.76 654.86L600.98 655.11L612.46 655.36L624.21 655.60L636.24 655.84L648.54 656.07L661.13 656.31L674.01 656.54L687.20 656.77L700.69 657.00L714.49 657.23L728.62 657.45L743.07 657.68L744.1 657.7 L744.3 660.7 L745.6 759.3L745.6 759.3L745.6 758.3L745.7 757.3L745.7 756.2L745.8 755.2L745.8 754.2L745.9 753.2L745.9 752.1L746.0 751.1L746.1 750.1L746.1 749.0L746.2 748.0L746.3 746.9L746.3 745.9L746.4 744.8L746.5 743.7L746.6 742.6L746.7 741.4L746.8 740.2L746.8 739.0L746.9 737.8L747.0 736.6L747.2 735.4L747.3 734.3L747.4 733.2L747.5 732.2L747.6 731.3L747.8 730.4L747.9 729.6L748.0 729.0L748.2 728.3L748.3 727.7L748.5 727.2L748.7 726.6L748.8 726.1L749.0 725.6L749.2 725.2L749.4 724.7L749.6 724.3L749.9 723.8L750.1 723.4L750.3 723.0L750.6 722.6L750.8 722.3L751.1 722.0L751.4 721.7L751.7 721.4L752.0 721.1L752.3 720.9L752.6 720.6L753.0 720.4L753.4 720.2L753.7 719.9L754.1 719.7L754.6 719.5L755.0 719.3L755.4 719.1L755.9 718.9L756.4 718.7L756.9 718.5L757.4 718.3L758.0 718.2L758.6 718.0L759.2 717.9L759.8 717.8L760.5 717.7L761.2 717.6L761.9 717.5L762.7 717.3L763.4 717.2L764.3 717.1L765.1 717.0L766.0 716.9L766.9 716.8L767.9 716.7L768.9 716.6L770.0 716.6L771.1 716.5L772.2 716.4L773.4 716.4L774.7 716.3L776.0 716.2L777.4 716.2L778.8 716.1L780.3 716.1L781.8 716.0L783.4 716.0L785.1 715.9L786.9 715.9L788.7 715.8L790.7 715.8L792.7 715.7L794.7 715.7L796.9 715.7L799.2 715.6L801.6 715.6L804.0 715.6L806.6 715.5L809.3 715.5L812.1 715.5L815.1 715.5L818.1 715.4L821.3 715.4L824.7 715.4L828.2 715.4L831.8 715.4L835.6 715.3L839.5 715.3L843.7 715.3L848.0 715.3L852.5 715.2L857.2 715.2L862.0 715.2L867.2 715.2L872.5 715.1L878.0 715.1L883.8 715.1L889.9 715.0L896.2 715.0L902.8 715.0" stroke="#0000f0"/>
<path d="M108.6 420.0L110.40 504.73L110.46 505.03L110.53 505.36L110.60 505.71L110.67 506.08L110.74 506.48L110.81 506.90L110.88 507.33L110.96 507.79L111.03 508.27L111.11 508.77L111.19 509.29L111.28 509.83L111.36 510.39L111.45 510.96L111.54 511.56L111.63 512.17L111.72 512.79L111.81 513.43L111.91 514.09L112.01 514.76L112.11 515.45L112.21 516.15L112.32 516.87L112.43 517.59L112.54 518.34L112.65 519.09L112.77 519.85L112.89 520.63L113.01 521.42L113.13 522.21L113.26 523.02L113.39 523.84L113.52 524.66L113.66 525.50L113.80 526.34L113.94 527.19L114.08 528.05L114.23 528.92L114.39 529.79L114.54 530.67L114.70 531.55L114.86 532.44L115.03 533.34L115.20 534.24L115.38 535.14L115.55 536.05L115.74 536.97L115.92 537.88L116.11 538.80L116.31 539.73L116.51 540.65L116.71 541.58L116.92 542.51L117.14 543.44L117.36 544.37L117.58 545.31L117.81 546.24L118.04 547.18L118.28 548.11L118.53 549.05L118.78 549.99L119.04 550.92L119.30 551.86L119.57 552.79L119.84 553.72L120.12 554.66L120.41 555.59L120.71 556.52L121.01 557.44L121.31 558.37L121.63 559.29L121.95 560.21L122.28 561.13L122.62 562.04L122.96 562.96L123.32 563.87L123.68 564.77L124.05 565.68L124.42 566.58L124.81 567.47L125.20 568.36L125.61 569.25L126.02 570.14L126.44 571.02L126.88 571.89L127.32 572.77L127.77 573.64L128.24 574.50L128.71 575.36L129.19 576.21L129.69 577.06L130.20 577.91L130.72 578.75L131.25 579.58L131.79 580.41L132.34 581.24L132.91 582.06L133.49 582.87L134.09 583.68L134.70 584.49L135.32 585.29L135.95 586.08L136.61 586.87L137.27 587.65L137.95 588.43L138.65 589.20L139.36 589.97L140.09 590.73L140.84 591.49L141.60 592.24L142.38 592.98L143.18 593.72L144.00 594.46L144.83 595.19L145.69 595.91L146.56 596.63L147.46 597.34L148.37 598.04L149.31 598.74L150.26 599.44L151.24 600.13L152.24 600.81L153.27 601.49L154.32 602.16L155.39 602.83L156.49 603.49L157.61 604.14L158.76 604.80L159.93 605.44L161.13 606.08L162.36 606.71L163.62 607.34L164.91 607.97L166.22 608.58L167.57 609.20L168.94 609.81L170.35 610.41L171.79 611.00L173.27 611.60L174.77 612.18L176.32 612.77L177.89 613.34L179.51 613.91L181.16 614.48L182.85 615.04L184.57 615.60L186.34 616.15L188.15 616.70L190.00 617.24L191.89 617.78L193.83 618.31L195.81 618.84L197.83 619.36L199.90 619.88L202.02 620.40L204.19 620.91L206.41 621.42L208.67 621.92L210.99 622.41L213.37 622.91L215.80 623.40L218.28 623.88L220.82 624.36L223.42 624.84L226.08 625.31L228.80 625.78L231.58 626.25L234.43 626.71L237.34 627.16L240.32 627.62L243.36 628.07L246.48 628.51L249.67 628.96L252.93 629.40L256.27 629.83L259.68 630.26L263.17 630.69L266.74 631.12L270.40 631.54L274.13 631.96L277.96 632.38L281.87 632.79L285.87 633.20L289.96 633.61L294.15 634.01L298.43 634.41L302.81 634.81L307.29 635.21L311.88 635.60L316.57 635.99L321.36 636.38L326.27 636.76L331.29 637.15L336.43 637.53L341.68 637.91L347.05 638.28L352.55 638.66L358.18 639.03L363.93 639.40L369.81 639.77L375.83 640.13L381.99 640.50L388.29 640.86L394.73 641.22L401.32 641.58L408.07 641.94L414.97 642.29L422.02 642.64L429.24 643.00L436.62 643.35L444.18 643.70L451.90 644.04L459.81 644.39L467.89 644.74L476.17 645.08L484.63 645.43L493.28 645.77L502.14 646.11L511.19 646.45L520.46 646.79L529.94 647.13L539.63 647.46L549.55 647.80L559.70 648.14L570.08 648.47L580.69 648.81L591.56 649.14L602.67 649.48L614.03 649.81L625.66 650.15L637.55 650.48L649.72 650.81L662.16 651.15L674.89 651.48L687.92 651.81L701.24 652.14L714.87 652.48L728.81 652.81L743.07 653.14L744.1 653.1 L744.3 656.1 L745.6 759.3L745.6 759.3L745.6 758.3L745.7 757.3L745.7 756.2L745.8 755.2L745.8 754.2L745.9 753.2L745.9 752.1L746.0 751.1L746.1 750.1L746.1 749.0L746.2 748.0L746.3 746.9L746.3 745.9L746.4 744.8L746.5 743.7L746.6 742.6L746.7 741.4L746.8 740.2L746.8 739.0L746.9 737.8L747.0 736.6L747.2 735.4L747.3 734.3L747.4 733.2L747.5 732.2L747.6 731.3L747.8 730.4L747.9 729.6L748.0 729.0L748.2 728.3L748.3 727.7L748.5 727.2L748.7 726.6L748.8 726.1L749.0 725.6L749.2 725.2L749.4 724.7L749.6 724.3L749.9 723.8L750.1 723.4L750.3 723.0L750.6 722.6L750.8 722.3L751.1 722.0L751.4 721.7L751.7 721.4L752.0 721.1L752.3 720.9L752.6 720.6L753.0 720.4L753.4 720.2L753.7 719.9L754.1 719.7L754.6 719.5L755.0 719.3L755.4 719.1L755.9 718.9L756.4 718.7L756.9 718.5L757.4 718.3L758.0 718.2L758.6 718.0L759.2 717.9L759.8 717.8L760.5 717.7L761.2 717.6L761.9 717.5L762.7 717.3L763.4 717.2L764.3 717.1L765.1 717.0L766.0 716.9L766.9 716.8L767.9 716.7L768.9 716.6L770.0 716.6L771.1 716.5L772.2 716.4L773.4 716.4L774.7 716.3L776.0 716.2L777.4 716.2L778.8 716.1L780.3 716.1L781.8 716.0L783.4 716.0L785.1 715.9L786.9 715.9L788.7 715.8L790.7 715.8L792.7 715.7L794.7 715.7L796.9 715.7L799.2 715.6L801.6 715.6L804.0 715.6L806.6 715.5L809.3 715.5L812.1 715.5L815.1 715.5L818.1 715.4L821.3 715.4L824.7 715.4L828.2 715.4L831.8 715.4L835.6 715.3L839.5 715.3L843.7 715.3L848.0 715.3L852.5 715.2L857.2 715.2L862.0 715.2L867.2 715.2L872.5 715.1L878.0 715.1L883.8 715.1L889.9 715.0L896.2 715.0L902.8 715.0" stroke="#0000f0"/>
<path d="M108.6 396.0L110.60 500.27L110.67 500.27L110.74 500.27L110.81 500.27L110.88 500.27L110.96 500.27L111.03 500.29L111.11 500.41L111.19 500.55L111.27 500.72L111.35 500.92L111.44 501.15L111.53 501.40L111.61 501.68L111.71 501.99L111.80 502.32L111.89 502.68L111.99 503.07L112.09 503.47L112.19 503.90L112.30 504.36L112.40 504.84L112.51 505.33L112.62 505.85L112.74 506.39L112.85 506.95L112.97 507.53L113.09 508.13L113.22 508.75L113.35 509.39L113.48 510.04L113.61 510.71L113.75 511.39L113.88 512.09L114.03 512.81L114.17 513.54L114.32 514.29L114.47 515.05L114.63 515.82L114.79 516.60L114.95 517.40L115.12 518.20L115.29 519.02L115.46 519.85L115.64 520.69L115.82 521.54L116.01 522.40L116.20 523.27L116.40 524.14L116.59 525.02L116.80 525.91L117.01 526.81L117.22 527.71L117.44 528.62L117.66 529.54L117.89 530.46L118.12 531.38L118.36 532.31L118.60 533.24L118.85 534.18L119.11 535.12L119.37 536.07L119.64 537.01L119.91 537.96L120.19 538.91L120.47 539.86L120.77 540.82L121.06 541.77L121.37 542.73L121.68 543.68L122.00 544.64L122.33 545.60L122.66 546.55L123.00 547.51L123.35 548.46L123.71 549.42L124.07 550.37L124.45 551.32L124.83 552.27L125.22 553.21L125.62 554.16L126.03 555.10L126.44 556.04L126.87 556.98L127.31 557.91L127.75 558.84L128.21 559.77L128.68 560.69L129.15 561.62L129.64 562.53L130.14 563.45L130.65 564.35L131.18 565.26L131.71 566.16L132.26 567.06L132.82 567.95L133.39 568.84L133.97 569.72L134.57 570.60L135.18 571.47L135.81 572.34L136.44 573.20L137.10 574.06L137.77 574.91L138.45 575.75L139.15 576.60L139.86 577.43L140.60 578.26L141.34 579.09L142.11 579.91L142.89 580.72L143.69 581.53L144.51 582.33L145.34 583.13L146.20 583.92L147.07 584.70L147.97 585.48L148.88 586.25L149.82 587.02L150.78 587.78L151.75 588.53L152.76 589.28L153.78 590.03L154.82 590.76L155.90 591.50L156.99 592.22L158.11 592.94L159.25 593.65L160.42 594.36L161.62 595.06L162.85 595.76L164.10 596.45L165.38 597.13L166.69 597.81L168.03 598.48L169.40 599.15L170.80 599.81L172.23 600.46L173.69 601.11L175.19 601.76L176.72 602.39L178.29 603.03L179.89 603.65L181.53 604.27L183.20 604.89L184.92 605.50L186.67 606.10L188.46 606.70L190.29 607.29L192.17 607.88L194.08 608.46L196.04 609.04L198.05 609.61L200.10 610.18L202.19 610.74L204.34 611.30L206.53 611.85L208.77 612.40L211.07 612.94L213.41 613.48L215.81 614.01L218.26 614.54L220.77 615.06L223.33 615.58L225.96 616.10L228.64 616.61L231.38 617.11L234.19 617.61L237.05 618.11L239.99 618.60L242.99 619.09L246.06 619.57L249.19 620.05L252.40 620.53L255.68 621.00L259.04 621.47L262.47 621.93L265.98 622.39L269.57 622.85L273.24 623.30L277.00 623.75L280.83 624.20L284.76 624.64L288.77 625.08L292.88 625.52L297.08 625.95L301.37 626.38L305.76 626.81L310.26 627.23L314.85 627.65L319.54 628.07L324.35 628.49L329.26 628.90L334.28 629.31L339.42 629.72L344.67 630.12L350.05 630.52L355.54 630.92L361.16 631.32L366.90 631.72L372.78 632.11L378.79 632.50L384.94 632.89L391.22 633.28L397.65 633.66L404.22 634.05L410.94 634.43L417.82 634.81L424.85 635.19L432.04 635.57L439.39 635.94L446.91 636.32L454.60 636.69L462.46 637.06L470.50 637.43L478.73 637.80L487.14 638.17L495.74 638.54L504.54 638.91L513.53 639.27L522.73 639.64L532.14 640.00L541.76 640.37L551.60 640.73L561.66 641.09L571.95 641.46L582.47 641.82L593.23 642.18L604.24 642.54L615.50 642.91L627.00 643.27L638.78 643.63L650.81 643.99L663.12 644.35L675.71 644.72L688.59 645.08L701.75 645.44L715.22 645.81L728.99 646.17L743.07 646.53L744.1 646.5 L744.3 649.5 L745.6 759.3L745.6 759.3L745.6 758.3L745.7 757.3L745.7 756.2L745.8 755.2L745.8 754.2L745.9 753.2L745.9 752.1L746.0 751.1L746.1 750.1L746.1 749.0L746.2 748.0L746.3 746.9L746.3 745.9L746.4 744.8L746.5 743.7L746.6 742.6L746.7 741.4L746.8 740.2L746.8 739.0L746.9 737.8L747.0 736.6L747.2 735.4L747.3 734.3L747.4 733.2L747.5 732.2L747.6 731.3L747.8 730.4L747.9 729.6L748.0 729.0L748.2 728.3L748.3 727.7L748.5 727.2L748.7 726.6L748.8 726.1L749.0 725.6L749.2 725.2L749.4 724.7L749.6 724.3L749.9 723.8L750.1 723.4L750.3 723.0L750.6 722.6L750.8 722.3L751.1 722.0L751.4 721.7L751.7 721.4L752.0 721.1L752.3 720.9L752.6 720.6L753.0 720.4L753.4 720.2L753.7 719.9L754.1 719.7L754.6 719.5L755.0 719.3L755.4 719.1L755.9 718.9L756.4 718.7L756.9 718.5L757.4 718.3L758.0 718.2L758.6 718.0L759.2 717.9L759.8 717.8L760.5 717.7L761.2 717.6L761.9 717.5L762.7 717.3L763.4 717.2L764.3 717.1L765.1 717.0L766.0 716.9L766.9 716.8L767.9 716.7L768.9 716.6L770.0 716.6L771.1 716.5L772.2 716.4L773.4 716.4L774.7 716.3L776.0 716.2L777.4 716.2L778.8 716.1L780.3 716.1L781.8 716.0L783.4 716.0L785.1 715.9L786.9 715.9L788.7 715.8L790.7 715.8L792.7 715.7L794.7 715.7L796.9 715.7L799.2 715.6L801.6 715.6L804.0 715.6L806.6 715.5L809.3 715.5L812.1 715.5L815.1 715.5L818.1 715.4L821.3 715.4L824.7 715.4L828.2 715.4L831.8 715.4L835.6 715.3L839.5 715.3L843.7 715.3L848.0 715.3L852.5 715.2L857.2 715.2L862.0 715.2L867.2 715.2L872.5 715.1L878.0 715.1L883.8 715.1L889.9 715.0L896.2 715.0L902.8 715.0" stroke="#0000f0"/>
</g>
<path d="M744.1 644.9 V700 L745.6 758" stroke="#0000f0" stroke-width="3.0" fill="none" stroke-linecap="butt"/>
<path d="M745.6 759.3L745.6 759.1L745.6 758.1L745.7 757.1L745.7 756.0L745.8 755.0L745.8 754.0L745.9 753.0L745.9 751.9L746.0 750.9L746.1 749.9L746.1 748.8L746.2 747.8L746.3 746.7L746.3 745.7L746.4 744.6L746.5 743.5L746.6 742.4L746.7 741.2L746.8 740.0L746.8 738.8L746.9 737.6L747.0 736.4L747.2 735.2L747.3 734.1L747.4 733.0L747.5 732.0L747.6 731.1L747.8 730.2L747.9 729.4L748.0 728.8L748.2 728.1L748.3 727.5L748.5 727.0L748.7 726.4L748.8 725.9L749.0 725.4L749.2 725.0L749.4 724.5L749.6 724.1L749.9 723.6L750.1 723.2L750.3 722.8L750.6 722.4L750.8 722.1L751.1 721.8L751.4 721.5L751.7 721.2L752.0 720.9L752.3 720.7L752.6 720.4L753.0 720.2L753.4 720.0L753.7 719.7L754.1 719.5L754.6 719.3L755.0 719.1L755.4 718.9L755.9 718.7L756.4 718.5L756.9 718.3L757.4 718.1L758.0 718.0L758.6 717.8L759.2 717.7L759.8 717.6L760.5 717.5L761.2 717.4L761.9 717.3L762.7 717.1L763.4 717.0L764.3 716.9L765.1 716.8L766.0 716.7L766.9 716.6L767.9 716.5L768.9 716.4L770.0 716.4L771.1 716.3L772.2 716.2L773.4 716.2L774.7 716.1L776.0 716.0L777.4 716.0L778.8 715.9L780.3 715.9L781.8 715.8L783.4 715.8L785.1 715.7L786.9 715.7L788.7 715.6L790.7 715.6L792.7 715.5L794.7 715.5L796.9 715.5L799.2 715.4L801.6 715.4L804.0 715.4L806.6 715.3L809.3 715.3L812.1 715.3L815.1 715.3L818.1 715.2L821.3 715.2L824.7 715.2L828.2 715.2L831.8 715.2L835.6 715.1L839.5 715.1L843.7 715.1L848.0 715.1L852.5 715.0L857.2 715.0L862.0 715.0L867.2 715.0L872.5 714.9L878.0 714.9L883.8 714.9L889.9 714.8L896.2 714.8L902.8 714.8" stroke="#0000f0" stroke-width="3.2" fill="none" stroke-linecap="round" stroke-linejoin="round"/>
<path d="M772.8 690.4 V638" stroke="#000" stroke-width="4.8" fill="none"/>
<path d="M772.8 629.4 C773.4 634 775.8 637.4 778.3 639.3 H767.3 C769.8 637.4 772.2 634 772.8 629.4 Z" fill="#000"/>
<text x="772.2" y="709.2" font-size="21px" text-anchor="middle" style="font-weight:normal;fill:#ff0000">1</text>
<text x="771.7" y="624.8" font-size="20px" text-anchor="middle" style="font-weight:normal;fill:#2433e8">8</text>
<rect x="217.5" y="24.4" width="266.5" height="237.4" fill="#fff" stroke="#0a0a0a" stroke-width="2.9"/>
<g stroke="#0a0a0a" stroke-width="2.2">
<path d="M212.6 261.8 H217.5"/>
<path d="M212.6 202.5 H217.5"/>
<path d="M212.6 143.1 H217.5"/>
<path d="M212.6 83.8 H217.5"/>
<path d="M212.6 24.4 H217.5"/>
<path d="M217.5 261.8 V266.4"/>
<path d="M306.3 261.8 V266.4"/>
<path d="M395.2 261.8 V266.4"/>
<path d="M484.0 261.8 V266.4"/>
</g>
<g font-size="15.5px" text-anchor="end">
<text x="203.8" y="266.1">0</text>
<text x="203.8" y="206.8">200</text>
<text x="203.8" y="147.4">400</text>
<text x="203.8" y="88.0">600</text>
<text x="203.8" y="28.7">800</text>
</g>
<g font-size="15.5px" text-anchor="middle">
<text x="217.5" y="284.3">0</text>
<text x="306.3" y="284.3">0.2</text>
<text x="395.2" y="284.3">0.4</text>
<text x="484.0" y="284.3">0.6</text>
</g>
<text x="342.6" y="311.6" font-size="16px" text-anchor="middle" style="fill:#ff0000">t<tspan font-size="10.5px" dy="-5.5">-0.5</tspan><tspan dy="5.5">/s</tspan><tspan font-size="10.5px" dy="-5.5">-0.5</tspan></text>
<text transform="translate(168.3 142.3) rotate(-90)" font-size="15.5px" text-anchor="middle" style="fill:#ff0000">I/μA</text>
<circle cx="251.8" cy="55.5" r="17.6" fill="#ffff00" stroke="#ffb340" stroke-width="1"/>
<text x="251.8" y="62.8" font-size="20px" text-anchor="middle">a</text>
<defs>
<linearGradient id="g0" gradientUnits="userSpaceOnUse" x1="277.4" y1="0" x2="440.4" y2="0"><stop offset="0" stop-color="#fff200"/><stop offset="0.22" stop-color="#fff200"/><stop offset="0.46" stop-color="#858806"/><stop offset="0.8" stop-color="#34420a"/></linearGradient>
<marker id="m0" markerUnits="userSpaceOnUse" markerWidth="12" markerHeight="12" refX="6" refY="6" orient="0"><circle cx="6" cy="6" r="3.9" fill="#34420a" stroke="#9aa000" stroke-width="0.6"/></marker>
<linearGradient id="g1" gradientUnits="userSpaceOnUse" x1="277.4" y1="0" x2="440.4" y2="0"><stop offset="0" stop-color="#fff200"/><stop offset="0.22" stop-color="#fff200"/><stop offset="0.46" stop-color="#ff6a90"/><stop offset="0.8" stop-color="#ff10f0"/></linearGradient>
<marker id="m1" markerUnits="userSpaceOnUse" markerWidth="12" markerHeight="12" refX="6" refY="6" orient="0"><circle cx="6" cy="6" r="3.9" fill="#ff10f0" stroke="#ff70c0" stroke-width="0.6"/></marker>
<linearGradient id="g2" gradientUnits="userSpaceOnUse" x1="277.4" y1="0" x2="440.4" y2="0"><stop offset="0" stop-color="#fff200"/><stop offset="0.22" stop-color="#fff200"/><stop offset="0.46" stop-color="#de6f5c"/><stop offset="0.8" stop-color="#c8189a"/></linearGradient>
<marker id="m2" markerUnits="userSpaceOnUse" markerWidth="12" markerHeight="12" refX="6" refY="6" orient="0"><circle cx="6" cy="6" r="3.9" fill="#c8189a" stroke="#d86a60" stroke-width="0.6"/></marker>
<linearGradient id="g3" gradientUnits="userSpaceOnUse" x1="277.4" y1="0" x2="440.4" y2="0"><stop offset="0" stop-color="#fff200"/><stop offset="0.22" stop-color="#fff200"/><stop offset="0.46" stop-color="#ff6f00"/><stop offset="0.8" stop-color="#ff1800"/></linearGradient>
<marker id="m3" markerUnits="userSpaceOnUse" markerWidth="12" markerHeight="12" refX="6" refY="6" orient="0"><circle cx="6" cy="6" r="3.9" fill="#ff1800" stroke="#ff7a00" stroke-width="0.6"/></marker>
<linearGradient id="g4" gradientUnits="userSpaceOnUse" x1="277.4" y1="0" x2="440.4" y2="0"><stop offset="0" stop-color="#fff200"/><stop offset="0.22" stop-color="#fff200"/><stop offset="0.46" stop-color="#9c7360"/><stop offset="0.8" stop-color="#5a1ea0"/></linearGradient>
<marker id="m4" markerUnits="userSpaceOnUse" markerWidth="12" markerHeight="12" refX="6" refY="6" orient="0"><circle cx="6" cy="6" r="3.9" fill="#5a1ea0" stroke="#8a6a70" stroke-width="0.6"/></marker>
<linearGradient id="g5" gradientUnits="userSpaceOnUse" x1="277.4" y1="0" x2="440.4" y2="0"><stop offset="0" stop-color="#fff200"/><stop offset="0.22" stop-color="#fff200"/><stop offset="0.46" stop-color="#9cba80"/><stop offset="0.8" stop-color="#5a94d6"/></linearGradient>
<marker id="m5" markerUnits="userSpaceOnUse" markerWidth="12" markerHeight="12" refX="6" refY="6" orient="0"><circle cx="6" cy="6" r="3.9" fill="#5a94d6" stroke="#a8c088" stroke-width="0.6"/></marker>
<linearGradient id="g6" gradientUnits="userSpaceOnUse" x1="277.4" y1="0" x2="440.4" y2="0"><stop offset="0" stop-color="#fff200"/><stop offset="0.22" stop-color="#fff200"/><stop offset="0.46" stop-color="#7afa00"/><stop offset="0.8" stop-color="#22ff00"/></linearGradient>
<marker id="m6" markerUnits="userSpaceOnUse" markerWidth="12" markerHeight="12" refX="6" refY="6" orient="0"><circle cx="6" cy="6" r="3.9" fill="#22ff00" stroke="#80ff00" stroke-width="0.6"/></marker>
</defs>
<path d="M277.4 214.8L280.7 214.1L284.0 213.4L287.3 212.6L290.6 211.9L293.9 211.2L297.2 210.5L300.5 209.8L303.7 209.1L307.0 208.4L310.3 207.7L313.6 207.0L316.9 206.4L320.2 205.7L323.5 205.0L326.8 204.4L330.1 203.7L333.4 203.1L336.7 202.4L340.0 201.8L343.3 201.1L346.6 200.5L349.9 199.9L353.1 199.2L356.4 198.6L359.7 198.0L363.0 197.4L366.3 196.8L369.6 196.2L372.9 195.6L376.2 195.0L379.5 194.4L382.8 193.8L386.1 193.2L389.4 192.7L392.7 192.1L396.0 191.5L399.3 191.0L402.5 190.4L405.8 189.9L409.1 189.3L412.4 188.8L415.7 188.3L419.0 187.7L422.3 187.2L425.6 186.7L428.9 186.2L432.2 185.7L435.5 185.1L438.8 184.6" fill="none" stroke="#fff45a" stroke-opacity="0.8" stroke-width="10.0" stroke-linecap="butt"/>
<path d="M277.4 214.8L280.7 214.1L284.0 213.4L287.3 212.6L290.6 211.9L293.9 211.2L297.2 210.5L300.5 209.8L303.7 209.1L307.0 208.4L310.3 207.7L313.6 207.0L316.9 206.4L320.2 205.7L323.5 205.0L326.8 204.4L330.1 203.7L333.4 203.1L336.7 202.4L340.0 201.8L343.3 201.1L346.6 200.5L349.9 199.9L353.1 199.2L356.4 198.6L359.7 198.0L363.0 197.4L366.3 196.8L369.6 196.2L372.9 195.6L376.2 195.0L379.5 194.4L382.8 193.8L386.1 193.2L389.4 192.7L392.7 192.1L396.0 191.5L399.3 191.0L402.5 190.4L405.8 189.9L409.1 189.3L412.4 188.8L415.7 188.3L419.0 187.7L422.3 187.2L425.6 186.7L428.9 186.2L432.2 185.7L435.5 185.1L438.8 184.6" fill="none" stroke="url(#g0)" stroke-width="8.9" stroke-linecap="butt"/>
<polyline points="365.56,196.92 366.39,196.77 367.23,196.61 368.09,196.45 368.96,196.29 369.85,196.13 370.75,195.97 371.67,195.80 372.61,195.63 373.57,195.46 374.54,195.29 375.53,195.11 376.54,194.93 377.57,194.74 378.62,194.56 379.69,194.37 380.78,194.17 381.89,193.98 383.03,193.77 384.19,193.57 385.38,193.36 386.59,193.15 387.83,192.94 389.10,192.72 390.39,192.49 391.72,192.26 393.07,192.03 394.46,191.79 395.88,191.55 397.34,191.30 398.83,191.05 400.36,190.79 401.93,190.53 403.54,190.26 405.20,189.98 406.89,189.70 408.64,189.41 410.44,189.12 412.28,188.81 414.18,188.51 416.14,188.19 418.16,187.86 420.23,187.53 422.38,187.19 424.60,186.84 426.88,186.48 429.25,186.11 431.70,185.73 434.23,185.34 436.86,184.94 439.58,184.52" fill="none" stroke="none" marker-start="url(#m0)" marker-mid="url(#m0)" marker-end="url(#m0)"/>
<circle cx="278.0" cy="214.8" r="3.9" fill="#fff200"/>
<circle cx="277.4" cy="216.2" r="4.0" fill="#34420a"/>
<path d="M277.4 199.1L280.7 197.8L284.0 196.5L287.3 195.3L290.6 194.0L293.9 192.8L297.2 191.6L300.5 190.4L303.7 189.2L307.0 188.0L310.3 186.9L313.6 185.7L316.9 184.6L320.2 183.4L323.5 182.3L326.8 181.2L330.1 180.1L333.4 179.1L336.7 178.0L340.0 177.0L343.3 175.9L346.6 174.9L349.9 173.9L353.1 172.9L356.4 171.9L359.7 170.9L363.0 170.0L366.3 169.0L369.6 168.1L372.9 167.2L376.2 166.3L379.5 165.4L382.8 164.5L386.1 163.7L389.4 162.8L392.7 162.0L396.0 161.1L399.3 160.3L402.5 159.5L405.8 158.7L409.1 158.0L412.4 157.2L415.7 156.4L419.0 155.7L422.3 155.0L425.6 154.3L428.9 153.6L432.2 152.9L435.5 152.2L438.8 151.6" fill="none" stroke="#fff45a" stroke-opacity="0.8" stroke-width="10.0" stroke-linecap="butt"/>
<path d="M277.4 199.1L280.7 197.8L284.0 196.5L287.3 195.3L290.6 194.0L293.9 192.8L297.2 191.6L300.5 190.4L303.7 189.2L307.0 188.0L310.3 186.9L313.6 185.7L316.9 184.6L320.2 183.4L323.5 182.3L326.8 181.2L330.1 180.1L333.4 179.1L336.7 178.0L340.0 177.0L343.3 175.9L346.6 174.9L349.9 173.9L353.1 172.9L356.4 171.9L359.7 170.9L363.0 170.0L366.3 169.0L369.6 168.1L372.9 167.2L376.2 166.3L379.5 165.4L382.8 164.5L386.1 163.7L389.4 162.8L392.7 162.0L396.0 161.1L399.3 160.3L402.5 159.5L405.8 158.7L409.1 158.0L412.4 157.2L415.7 156.4L419.0 155.7L422.3 155.0L425.6 154.3L428.9 153.6L432.2 152.9L435.5 152.2L438.8 151.6" fill="none" stroke="url(#g1)" stroke-width="8.9" stroke-linecap="butt"/>
<polyline points="365.56,169.26 366.39,169.02 367.23,168.78 368.09,168.54 368.96,168.29 369.85,168.05 370.75,167.79 371.67,167.54 372.61,167.28 373.57,167.01 374.54,166.74 375.53,166.47 376.54,166.20 377.57,165.92 378.62,165.63 379.69,165.34 380.78,165.05 381.89,164.75 383.03,164.45 384.19,164.15 385.38,163.84 386.59,163.52 387.83,163.20 389.10,162.87 390.39,162.54 391.72,162.20 393.07,161.86 394.46,161.51 395.88,161.15 397.34,160.79 398.83,160.42 400.36,160.05 401.93,159.67 403.54,159.28 405.20,158.88 406.89,158.48 408.64,158.07 410.44,157.65 412.28,157.23 414.18,156.79 416.14,156.35 418.16,155.90 420.23,155.44 422.38,154.97 424.60,154.49 426.88,154.01 429.25,153.51 431.70,153.00 434.23,152.48 436.86,151.95 439.58,151.41" fill="none" stroke="none" marker-start="url(#m1)" marker-mid="url(#m1)" marker-end="url(#m1)"/>
<circle cx="278.0" cy="199.1" r="3.9" fill="#fff200"/>
<circle cx="277.4" cy="200.6" r="4.0" fill="#ff10f0"/>
<path d="M277.4 184.1L280.7 182.8L284.0 181.4L287.3 180.1L290.6 178.7L293.9 177.4L297.2 176.1L300.5 174.8L303.7 173.5L307.0 172.2L310.3 170.9L313.6 169.6L316.9 168.4L320.2 167.1L323.5 165.9L326.8 164.6L330.1 163.4L333.4 162.2L336.7 161.0L340.0 159.8L343.3 158.6L346.6 157.4L349.9 156.2L353.1 155.0L356.4 153.9L359.7 152.7L363.0 151.6L366.3 150.4L369.6 149.3L372.9 148.2L376.2 147.1L379.5 146.0L382.8 144.9L386.1 143.8L389.4 142.7L392.7 141.7L396.0 140.6L399.3 139.6L402.5 138.5L405.8 137.5L409.1 136.5L412.4 135.5L415.7 134.5L419.0 133.5L422.3 132.5L425.6 131.5L428.9 130.6L432.2 129.6L435.5 128.7L438.8 127.7" fill="none" stroke="#fff45a" stroke-opacity="0.8" stroke-width="10.0" stroke-linecap="butt"/>
<path d="M277.4 184.1L280.7 182.8L284.0 181.4L287.3 180.1L290.6 178.7L293.9 177.4L297.2 176.1L300.5 174.8L303.7 173.5L307.0 172.2L310.3 170.9L313.6 169.6L316.9 168.4L320.2 167.1L323.5 165.9L326.8 164.6L330.1 163.4L333.4 162.2L336.7 161.0L340.0 159.8L343.3 158.6L346.6 157.4L349.9 156.2L353.1 155.0L356.4 153.9L359.7 152.7L363.0 151.6L366.3 150.4L369.6 149.3L372.9 148.2L376.2 147.1L379.5 146.0L382.8 144.9L386.1 143.8L389.4 142.7L392.7 141.7L396.0 140.6L399.3 139.6L402.5 138.5L405.8 137.5L409.1 136.5L412.4 135.5L415.7 134.5L419.0 133.5L422.3 132.5L425.6 131.5L428.9 130.6L432.2 129.6L435.5 128.7L438.8 127.7" fill="none" stroke="url(#g2)" stroke-width="8.9" stroke-linecap="butt"/>
<polyline points="365.56,150.70 366.39,150.42 367.23,150.13 368.09,149.84 368.96,149.54 369.85,149.23 370.75,148.93 371.67,148.62 372.61,148.30 373.57,147.98 374.54,147.65 375.53,147.32 376.54,146.98 377.57,146.63 378.62,146.28 379.69,145.93 380.78,145.57 381.89,145.20 383.03,144.82 384.19,144.44 385.38,144.05 386.59,143.65 387.83,143.25 389.10,142.84 390.39,142.42 391.72,141.99 393.07,141.55 394.46,141.11 395.88,140.65 397.34,140.19 398.83,139.72 400.36,139.23 401.93,138.74 403.54,138.23 405.20,137.72 406.89,137.19 408.64,136.65 410.44,136.10 412.28,135.53 414.18,134.95 416.14,134.36 418.16,133.75 420.23,133.12 422.38,132.48 424.60,131.83 426.88,131.15 429.25,130.46 431.70,129.74 434.23,129.01 436.86,128.26 439.58,127.48" fill="none" stroke="none" marker-start="url(#m2)" marker-mid="url(#m2)" marker-end="url(#m2)"/>
<circle cx="278.0" cy="184.1" r="3.9" fill="#fff200"/>
<circle cx="277.4" cy="185.6" r="4.0" fill="#c8189a"/>
<path d="M277.4 171.0L280.7 169.4L284.0 167.9L287.3 166.3L290.6 164.8L293.9 163.2L297.2 161.7L300.5 160.2L303.7 158.7L307.0 157.1L310.3 155.7L313.6 154.2L316.9 152.7L320.2 151.2L323.5 149.8L326.8 148.3L330.1 146.9L333.4 145.4L336.7 144.0L340.0 142.6L343.3 141.2L346.6 139.8L349.9 138.4L353.1 137.0L356.4 135.6L359.7 134.3L363.0 132.9L366.3 131.6L369.6 130.3L372.9 128.9L376.2 127.6L379.5 126.3L382.8 125.0L386.1 123.7L389.4 122.4L392.7 121.2L396.0 119.9L399.3 118.7L402.5 117.4L405.8 116.2L409.1 114.9L412.4 113.7L415.7 112.5L419.0 111.3L422.3 110.1L425.6 108.9L428.9 107.8L432.2 106.6L435.5 105.5L438.8 104.3" fill="none" stroke="#fff45a" stroke-opacity="0.8" stroke-width="10.0" stroke-linecap="butt"/>
<path d="M277.4 171.0L280.7 169.4L284.0 167.9L287.3 166.3L290.6 164.8L293.9 163.2L297.2 161.7L300.5 160.2L303.7 158.7L307.0 157.1L310.3 155.7L313.6 154.2L316.9 152.7L320.2 151.2L323.5 149.8L326.8 148.3L330.1 146.9L333.4 145.4L336.7 144.0L340.0 142.6L343.3 141.2L346.6 139.8L349.9 138.4L353.1 137.0L356.4 135.6L359.7 134.3L363.0 132.9L366.3 131.6L369.6 130.3L372.9 128.9L376.2 127.6L379.5 126.3L382.8 125.0L386.1 123.7L389.4 122.4L392.7 121.2L396.0 119.9L399.3 118.7L402.5 117.4L405.8 116.2L409.1 114.9L412.4 113.7L415.7 112.5L419.0 111.3L422.3 110.1L425.6 108.9L428.9 107.8L432.2 106.6L435.5 105.5L438.8 104.3" fill="none" stroke="url(#g3)" stroke-width="8.9" stroke-linecap="butt"/>
<polyline points="365.56,131.90 366.39,131.56 367.23,131.22 368.09,130.87 368.96,130.52 369.85,130.16 370.75,129.80 371.67,129.43 372.61,129.05 373.57,128.67 374.54,128.28 375.53,127.88 376.54,127.48 377.57,127.07 378.62,126.65 379.69,126.23 380.78,125.80 381.89,125.36 383.03,124.91 384.19,124.46 385.38,123.99 386.59,123.52 387.83,123.04 389.10,122.54 390.39,122.04 391.72,121.53 393.07,121.01 394.46,120.48 395.88,119.93 397.34,119.38 398.83,118.81 400.36,118.23 401.93,117.64 403.54,117.03 405.20,116.41 406.89,115.78 408.64,115.13 410.44,114.46 412.28,113.78 414.18,113.08 416.14,112.37 418.16,111.63 420.23,110.88 422.38,110.10 424.60,109.31 426.88,108.49 429.25,107.65 431.70,106.78 434.23,105.89 436.86,104.98 439.58,104.03" fill="none" stroke="none" marker-start="url(#m3)" marker-mid="url(#m3)" marker-end="url(#m3)"/>
<circle cx="278.0" cy="171.0" r="3.9" fill="#fff200"/>
<circle cx="277.4" cy="172.5" r="4.0" fill="#ff1800"/>
<path d="M277.4 162.3L280.7 160.4L284.0 158.6L287.3 156.8L290.6 155.0L293.9 153.2L297.2 151.4L300.5 149.6L303.7 147.8L307.0 146.1L310.3 144.4L313.6 142.6L316.9 140.9L320.2 139.2L323.5 137.5L326.8 135.8L330.1 134.1L333.4 132.5L336.7 130.8L340.0 129.2L343.3 127.5L346.6 125.9L349.9 124.3L353.1 122.7L356.4 121.1L359.7 119.6L363.0 118.0L366.3 116.4L369.6 114.9L372.9 113.4L376.2 111.8L379.5 110.3L382.8 108.8L386.1 107.4L389.4 105.9L392.7 104.4L396.0 103.0L399.3 101.5L402.5 100.1L405.8 98.7L409.1 97.2L412.4 95.8L415.7 94.5L419.0 93.1L422.3 91.7L425.6 90.4L428.9 89.0L432.2 87.7L435.5 86.4L438.8 85.0" fill="none" stroke="#fff45a" stroke-opacity="0.8" stroke-width="10.0" stroke-linecap="butt"/>
<path d="M277.4 162.3L280.7 160.4L284.0 158.6L287.3 156.8L290.6 155.0L293.9 153.2L297.2 151.4L300.5 149.6L303.7 147.8L307.0 146.1L310.3 144.4L313.6 142.6L316.9 140.9L320.2 139.2L323.5 137.5L326.8 135.8L330.1 134.1L333.4 132.5L336.7 130.8L340.0 129.2L343.3 127.5L346.6 125.9L349.9 124.3L353.1 122.7L356.4 121.1L359.7 119.6L363.0 118.0L366.3 116.4L369.6 114.9L372.9 113.4L376.2 111.8L379.5 110.3L382.8 108.8L386.1 107.4L389.4 105.9L392.7 104.4L396.0 103.0L399.3 101.5L402.5 100.1L405.8 98.7L409.1 97.2L412.4 95.8L415.7 94.5L419.0 93.1L422.3 91.7L425.6 90.4L428.9 89.0L432.2 87.7L435.5 86.4L438.8 85.0" fill="none" stroke="url(#g4)" stroke-width="8.9" stroke-linecap="butt"/>
<polyline points="365.56,116.80 366.39,116.41 367.23,116.01 368.09,115.61 368.96,115.20 369.85,114.79 370.75,114.37 371.67,113.94 372.61,113.50 373.57,113.06 374.54,112.61 375.53,112.16 376.54,111.69 377.57,111.22 378.62,110.74 379.69,110.25 380.78,109.75 381.89,109.24 383.03,108.73 384.19,108.20 385.38,107.67 386.59,107.12 387.83,106.56 389.10,106.00 390.39,105.42 391.72,104.83 393.07,104.23 394.46,103.61 395.88,102.99 397.34,102.35 398.83,101.69 400.36,101.03 401.93,100.34 403.54,99.65 405.20,98.93 406.89,98.20 408.64,97.46 410.44,96.69 412.28,95.91 414.18,95.10 416.14,94.28 418.16,93.44 420.23,92.57 422.38,91.68 424.60,90.77 426.88,89.83 429.25,88.87 431.70,87.88 434.23,86.85 436.86,85.80 439.58,84.72" fill="none" stroke="none" marker-start="url(#m4)" marker-mid="url(#m4)" marker-end="url(#m4)"/>
<circle cx="278.0" cy="162.3" r="3.9" fill="#fff200"/>
<circle cx="277.4" cy="163.8" r="4.0" fill="#5a1ea0"/>
<path d="M277.4 153.2L280.7 151.2L284.0 149.2L287.3 147.1L290.6 145.1L293.9 143.1L297.2 141.1L300.5 139.2L303.7 137.2L307.0 135.3L310.3 133.3L313.6 131.4L316.9 129.5L320.2 127.6L323.5 125.7L326.8 123.8L330.1 122.0L333.4 120.1L336.7 118.3L340.0 116.5L343.3 114.7L346.6 112.9L349.9 111.1L353.1 109.3L356.4 107.5L359.7 105.8L363.0 104.1L366.3 102.3L369.6 100.6L372.9 98.9L376.2 97.3L379.5 95.6L382.8 93.9L386.1 92.3L389.4 90.6L392.7 89.0L396.0 87.4L399.3 85.8L402.5 84.2L405.8 82.6L409.1 81.1L412.4 79.5L415.7 78.0L419.0 76.5L422.3 75.0L425.6 73.5L428.9 72.0L432.2 70.5L435.5 69.1L438.8 67.6" fill="none" stroke="#fff45a" stroke-opacity="0.8" stroke-width="10.0" stroke-linecap="butt"/>
<path d="M277.4 153.2L280.7 151.2L284.0 149.2L287.3 147.1L290.6 145.1L293.9 143.1L297.2 141.1L300.5 139.2L303.7 137.2L307.0 135.3L310.3 133.3L313.6 131.4L316.9 129.5L320.2 127.6L323.5 125.7L326.8 123.8L330.1 122.0L333.4 120.1L336.7 118.3L340.0 116.5L343.3 114.7L346.6 112.9L349.9 111.1L353.1 109.3L356.4 107.5L359.7 105.8L363.0 104.1L366.3 102.3L369.6 100.6L372.9 98.9L376.2 97.3L379.5 95.6L382.8 93.9L386.1 92.3L389.4 90.6L392.7 89.0L396.0 87.4L399.3 85.8L402.5 84.2L405.8 82.6L409.1 81.1L412.4 79.5L415.7 78.0L419.0 76.5L422.3 75.0L425.6 73.5L428.9 72.0L432.2 70.5L435.5 69.1L438.8 67.6" fill="none" stroke="url(#g5)" stroke-width="8.9" stroke-linecap="butt"/>
<polyline points="365.56,102.74 366.39,102.31 367.23,101.87 368.09,101.42 368.96,100.97 369.85,100.51 370.75,100.04 371.67,99.57 372.61,99.09 373.57,98.60 374.54,98.10 375.53,97.59 376.54,97.08 377.57,96.55 378.62,96.02 379.69,95.48 380.78,94.93 381.89,94.37 383.03,93.79 384.19,93.21 385.38,92.62 386.59,92.01 387.83,91.40 389.10,90.77 390.39,90.13 391.72,89.48 393.07,88.81 394.46,88.13 395.88,87.44 397.34,86.73 398.83,86.01 400.36,85.27 401.93,84.52 403.54,83.74 405.20,82.95 406.89,82.15 408.64,81.32 410.44,80.47 412.28,79.61 414.18,78.72 416.14,77.81 418.16,76.88 420.23,75.92 422.38,74.94 424.60,73.93 426.88,72.89 429.25,71.83 431.70,70.74 434.23,69.61 436.86,68.45 439.58,67.26" fill="none" stroke="none" marker-start="url(#m5)" marker-mid="url(#m5)" marker-end="url(#m5)"/>
<circle cx="278.0" cy="153.2" r="3.9" fill="#fff200"/>
<circle cx="277.4" cy="154.8" r="4.0" fill="#5a94d6"/>
<path d="M277.4 141.4L280.7 139.2L284.0 137.0L287.3 134.8L290.6 132.6L293.9 130.4L297.2 128.3L300.5 126.1L303.7 124.0L307.0 121.8L310.3 119.7L313.6 117.6L316.9 115.5L320.2 113.4L323.5 111.4L326.8 109.3L330.1 107.3L333.4 105.2L336.7 103.2L340.0 101.2L343.3 99.2L346.6 97.2L349.9 95.3L353.1 93.3L356.4 91.4L359.7 89.4L363.0 87.5L366.3 85.6L369.6 83.7L372.9 81.8L376.2 79.9L379.5 78.0L382.8 76.2L386.1 74.3L389.4 72.5L392.7 70.7L396.0 68.9L399.3 67.1L402.5 65.3L405.8 63.5L409.1 61.7L412.4 60.0L415.7 58.3L419.0 56.5L422.3 54.8L425.6 53.1L428.9 51.4L432.2 49.7L435.5 48.1L438.8 46.4" fill="none" stroke="#fff45a" stroke-opacity="0.8" stroke-width="10.0" stroke-linecap="butt"/>
<path d="M277.4 141.4L280.7 139.2L284.0 137.0L287.3 134.8L290.6 132.6L293.9 130.4L297.2 128.3L300.5 126.1L303.7 124.0L307.0 121.8L310.3 119.7L313.6 117.6L316.9 115.5L320.2 113.4L323.5 111.4L326.8 109.3L330.1 107.3L333.4 105.2L336.7 103.2L340.0 101.2L343.3 99.2L346.6 97.2L349.9 95.3L353.1 93.3L356.4 91.4L359.7 89.4L363.0 87.5L366.3 85.6L369.6 83.7L372.9 81.8L376.2 79.9L379.5 78.0L382.8 76.2L386.1 74.3L389.4 72.5L392.7 70.7L396.0 68.9L399.3 67.1L402.5 65.3L405.8 63.5L409.1 61.7L412.4 60.0L415.7 58.3L419.0 56.5L422.3 54.8L425.6 53.1L428.9 51.4L432.2 49.7L435.5 48.1L438.8 46.4" fill="none" stroke="url(#g6)" stroke-width="8.9" stroke-linecap="butt"/>
<polyline points="365.56,86.01 366.39,85.53 367.23,85.04 368.09,84.55 368.96,84.04 369.85,83.53 370.75,83.01 371.67,82.48 372.61,81.94 373.57,81.40 374.54,80.84 375.53,80.28 376.54,79.70 377.57,79.12 378.62,78.52 379.69,77.92 380.78,77.30 381.89,76.67 383.03,76.03 384.19,75.38 385.38,74.72 386.59,74.04 387.83,73.35 389.10,72.65 390.39,71.93 391.72,71.20 393.07,70.45 394.46,69.68 395.88,68.91 397.34,68.11 398.83,67.30 400.36,66.46 401.93,65.61 403.54,64.74 405.20,63.85 406.89,62.94 408.64,62.01 410.44,61.05 412.28,60.07 414.18,59.07 416.14,58.03 418.16,56.98 420.23,55.89 422.38,54.77 424.60,53.63 426.88,52.45 429.25,51.24 431.70,49.99 434.23,48.70 436.86,47.37 439.58,46.01" fill="none" stroke="none" marker-start="url(#m6)" marker-mid="url(#m6)" marker-end="url(#m6)"/>
<circle cx="278.0" cy="141.4" r="3.9" fill="#fff200"/>
<circle cx="277.4" cy="142.9" r="4.0" fill="#22ff00"/>
<path d="M278.2 214.8 L439.2 182.5" stroke="#19e6d8" stroke-width="2.2" fill="none" stroke-linecap="round"/>
<path d="M278.2 199.2 L439.2 146.1" stroke="#19e6d8" stroke-width="2.2" fill="none" stroke-linecap="round"/>
<path d="M278.2 184.2 L439.2 123.8" stroke="#19e6d8" stroke-width="2.2" fill="none" stroke-linecap="round"/>
<path d="M278.2 171.1 L439.2 100.2" stroke="#19e6d8" stroke-width="2.2" fill="none" stroke-linecap="round"/>
<path d="M278.2 162.3 L439.2 80.0" stroke="#19e6d8" stroke-width="2.2" fill="none" stroke-linecap="round"/>
<path d="M278.2 153.3 L439.2 61.9" stroke="#19e6d8" stroke-width="2.2" fill="none" stroke-linecap="round"/>
<path d="M278.2 141.5 L439.2 40.9" stroke="#19e6d8" stroke-width="2.2" fill="none" stroke-linecap="round"/>
<path d="M260 206.2 V139.3" stroke="#ff0000" stroke-width="3.5" stroke-dasharray="10.2 8.6" stroke-dashoffset="0" fill="none"/>
<path d="M260 126.6 L264.2 134.8 H255.8 Z" fill="#ff0000"/>
<text x="261.6" y="117.6" font-size="16px" text-anchor="middle">g</text>
<text x="259.2" y="221.3" font-size="15.5px" text-anchor="middle">a</text>
<rect x="626.2" y="23.1" width="277.8" height="236.9" fill="#fff" stroke="#0a0a0a" stroke-width="2.9"/>
<g stroke="#0a0a0a" stroke-width="2.2">
<path d="M621.3 260.0 H626.2"/>
<path d="M621.3 212.6 H626.2"/>
<path d="M621.3 165.2 H626.2"/>
<path d="M621.3 117.9 H626.2"/>
<path d="M621.3 70.5 H626.2"/>
<path d="M621.3 23.1 H626.2"/>
<path d="M626.2 260.0 V264.6"/>
<path d="M718.8 260.0 V264.6"/>
<path d="M811.4 260.0 V264.6"/>
<path d="M904.0 260.0 V264.6"/>
</g>
<g font-size="15.5px" text-anchor="end">
<text x="611.9" y="264.3">0</text>
<text x="611.9" y="216.9">200</text>
<text x="611.9" y="169.5">400</text>
<text x="611.9" y="122.2">600</text>
<text x="611.9" y="74.8">800</text>
<text x="611.9" y="27.4">1000</text>
</g>
<g font-size="15.5px" text-anchor="middle">
<text x="626.2" y="283.3">0</text>
<text x="718.8" y="283.3">50</text>
<text x="811.4" y="283.3">100</text>
<text x="904.0" y="283.3">150</text>
</g>
<text x="770" y="309.5" font-size="16px" text-anchor="middle" style="fill:#ff0000">C/mM</text>
<text transform="translate(567.8 135.3) rotate(-90)" font-size="16px" text-anchor="middle" style="fill:#ff0000">Slope/μAs<tspan font-size="10.5px" dy="-5.5">-0.5</tspan></text>
<circle cx="663.3" cy="54.4" r="17.7" fill="#ffff00" stroke="#ffb340" stroke-width="1"/>
<text x="663.3" y="61.5" font-size="20px" text-anchor="middle">b</text>
<circle cx="673.6" cy="185.9" r="4.4" fill="#ff0000"/>
<circle cx="699.5" cy="147.3" r="4.4" fill="#ff0000"/>
<circle cx="723.6" cy="125.0" r="4.4" fill="#ff0000"/>
<circle cx="747.7" cy="103.0" r="4.4" fill="#ff0000"/>
<circle cx="789.3" cy="71.1" r="4.4" fill="#ff0000"/>
<circle cx="798.4" cy="59.1" r="4.4" fill="#ff0000"/>
<circle cx="822.3" cy="39.3" r="4.4" fill="#ff0000"/>
<path d="M673.6 177.6 L823 37" stroke="#0fe9ef" stroke-width="2.6" fill="none"/>
<g font-size="16px" text-anchor="middle"><text x="818.8" y="220.7">y = 7.4461x + 153.49</text><text x="818.8" y="240.2">R² = 0.991</text></g>
<rect x="422.5" y="324.2" width="268.8" height="236.4" fill="#fff" stroke="#0a0a0a" stroke-width="2.9"/>
<g stroke="#0a0a0a" stroke-width="2.2">
<path d="M417.6 560.6 H422.5"/>
<path d="M417.6 531.0 H422.5"/>
<path d="M417.6 501.5 H422.5"/>
<path d="M417.6 471.9 H422.5"/>
<path d="M417.6 442.4 H422.5"/>
<path d="M417.6 412.9 H422.5"/>
<path d="M417.6 383.3 H422.5"/>
<path d="M417.6 353.7 H422.5"/>
<path d="M417.6 324.2 H422.5"/>
<path d="M422.5 560.6 V565.2"/>
<path d="M489.7 560.6 V565.2"/>
<path d="M556.9 560.6 V565.2"/>
<path d="M624.1 560.6 V565.2"/>
<path d="M691.3 560.6 V565.2"/>
</g>
<g font-size="15.5px" text-anchor="end">
<text x="409.0" y="564.9">2.8</text>
<text x="409.0" y="535.3">2.85</text>
<text x="409.0" y="505.8">2.9</text>
<text x="409.0" y="476.2">2.95</text>
<text x="409.0" y="446.7">3</text>
<text x="409.0" y="417.2">3.05</text>
<text x="409.0" y="387.6">3.1</text>
<text x="409.0" y="358.0">3.15</text>
<text x="409.0" y="328.5">3.2</text>
</g>
<g font-size="15.5px" text-anchor="middle">
<text x="422.5" y="584.8">1</text>
<text x="489.7" y="584.8">1.5</text>
<text x="556.9" y="584.8">2</text>
<text x="624.1" y="584.8">2.5</text>
<text x="691.3" y="584.8">3</text>
</g>
<text x="551.6" y="618.8" font-size="16px" text-anchor="middle" style="fill:#ff0000">t<tspan font-size="10.5px" dy="-5.5" style="font-weight:normal">^</tspan><tspan font-size="10.5px">0.5</tspan></text>
<text transform="translate(371.0 449.2) rotate(-90)" font-size="16px" text-anchor="middle" style="fill:#ff0000">I<tspan font-size="10.5px" dy="3.6">cat</tspan><tspan dy="-3.6">/I</tspan><tspan font-size="10.5px" dy="3.6">L</tspan></text>
<circle cx="457.4" cy="352.0" r="17.8" fill="#ffff00" stroke="#ffb340" stroke-width="1"/>
<text x="457.4" y="358.2" font-size="20px" text-anchor="middle">c</text>
<circle cx="496.4" cy="541.5" r="4.4" fill="#ff0000"/>
<circle cx="506.0" cy="531.4" r="4.4" fill="#ff0000"/>
<circle cx="514.2" cy="521.2" r="4.4" fill="#ff0000"/>
<circle cx="521.1" cy="506.7" r="4.4" fill="#ff0000"/>
<circle cx="528.5" cy="496.6" r="4.4" fill="#ff0000"/>
<circle cx="536.2" cy="488.9" r="4.4" fill="#ff0000"/>
<circle cx="543.6" cy="480.7" r="4.4" fill="#ff0000"/>
<circle cx="550.7" cy="471.1" r="4.4" fill="#ff0000"/>
<circle cx="556.7" cy="457.4" r="4.4" fill="#ff0000"/>
<circle cx="562.2" cy="454.7" r="4.4" fill="#ff0000"/>
<circle cx="569.9" cy="443.7" r="4.4" fill="#ff0000"/>
<circle cx="575.9" cy="439.6" r="4.4" fill="#ff0000"/>
<circle cx="582.7" cy="428.6" r="4.4" fill="#ff0000"/>
<circle cx="588.2" cy="424.5" r="4.4" fill="#ff0000"/>
<circle cx="594.5" cy="418.2" r="4.4" fill="#ff0000"/>
<circle cx="600.5" cy="413.0" r="4.4" fill="#ff0000"/>
<circle cx="606.0" cy="404.0" r="4.4" fill="#ff0000"/>
<circle cx="611.5" cy="398.5" r="4.4" fill="#ff0000"/>
<circle cx="617.0" cy="393.6" r="4.4" fill="#ff0000"/>
<circle cx="622.5" cy="387.5" r="4.4" fill="#ff0000"/>
<circle cx="627.9" cy="381.5" r="4.4" fill="#ff0000"/>
<circle cx="633.4" cy="371.1" r="4.4" fill="#ff0000"/>
<circle cx="638.9" cy="368.4" r="4.4" fill="#ff0000"/>
<circle cx="644.4" cy="364.2" r="4.4" fill="#ff0000"/>
<circle cx="649.3" cy="358.8" r="4.4" fill="#ff0000"/>
<circle cx="654.0" cy="354.1" r="4.4" fill="#ff0000"/>
<path d="M496.4 535.5 L654 349.7" stroke="#0fe9ef" stroke-width="2.6" fill="none"/>
<g font-size="16px" text-anchor="middle"><text x="613.4" y="526.9">y = 0.8691x + 2.4246</text><text x="613.8" y="544.8">R² = 0.99</text></g>
</g>
</svg></body></html>
